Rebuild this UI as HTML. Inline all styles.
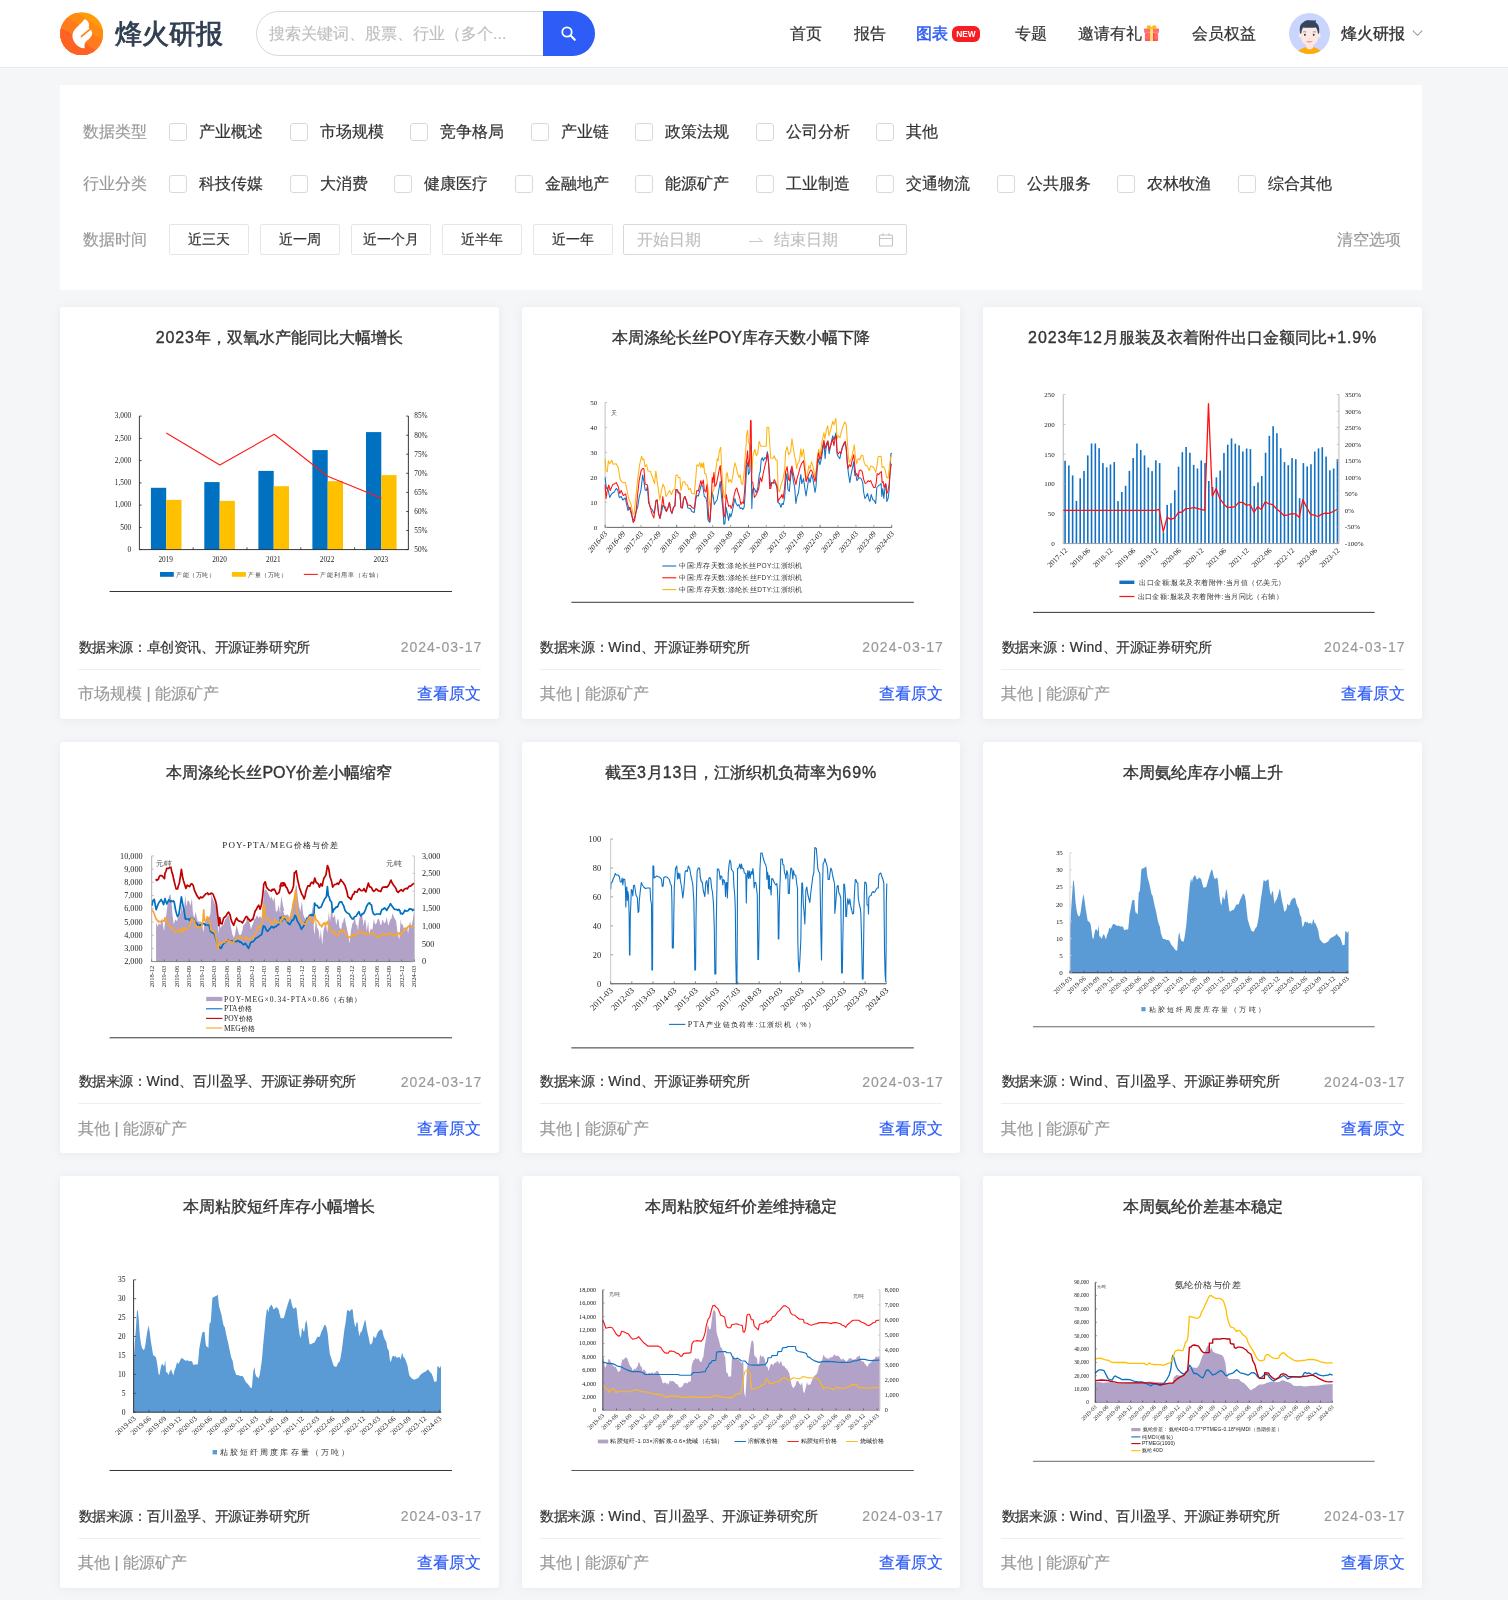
<!DOCTYPE html>
<html lang="zh"><head><meta charset="utf-8"><title>烽火研报</title>
<style>
*{box-sizing:border-box;margin:0;padding:0}
html,body{width:1508px;height:1600px;overflow:hidden;background:#f5f6f8;will-change:transform;font-family:"Liberation Sans",sans-serif;color:#333}
.abs{position:absolute}
#hdr{position:absolute;left:0;top:0;width:1508px;height:68px;background:#fff;border-bottom:1px solid #e8e9ec}
#logo{position:absolute;left:60px;top:12px;width:43.4px;height:43.4px}
#brand{position:absolute;left:114.5px;top:15px;font-size:27px;line-height:38px;font-weight:400;-webkit-text-stroke:0.85px #2f3e50;color:#2f3e50;letter-spacing:0px;white-space:nowrap}
#search{position:absolute;left:256px;top:11px;width:339px;height:45px;border:1px solid #d9d9d9;border-radius:23px;background:#fff;overflow:hidden}
#search .ph{position:absolute;left:12px;top:0;line-height:43px;font-size:16px;color:#bfbfbf;white-space:nowrap}
#sbtn{position:absolute;left:543px;top:11px;width:52px;height:45px;background:#2d5cf6;border-radius:0 22.5px 22.5px 0}
.nav{position:absolute;top:0;height:68px;line-height:68px;font-size:16px;color:#333;white-space:nowrap}
.nav.act{color:#2d5cf6;font-weight:400;-webkit-text-stroke:0.5px #2d5cf6}
#newb{position:absolute;left:952px;top:26px;width:28px;height:16px;border-radius:6px;background:#f81d22;color:#fff;font-size:8.3px;font-weight:bold;line-height:16px;text-align:center;letter-spacing:0}
#avatar{position:absolute;left:1289px;top:13px;width:41px;height:41px}
#panel{position:absolute;left:60px;top:85px;width:1362px;height:204.5px;background:#fff}
.flabel{position:absolute;left:23px;font-size:16px;color:#999;line-height:24px;white-space:nowrap}
.cb{position:absolute;width:18px;height:18px;border:1px solid #d9d9d9;border-radius:3px;background:#fff}
.cbt{position:absolute;font-size:16px;line-height:24px;color:#333;white-space:nowrap}
.tbtn{position:absolute;top:139px;width:80px;height:31px;border:1px solid #e6e6e6;border-radius:2px;font-size:14px;line-height:29px;text-align:center;color:#333;background:#fff}
#range{position:absolute;left:563px;top:139px;width:284px;height:31px;border:1px solid #d9d9d9;border-radius:2px;background:#fff}
#range span{position:absolute;top:0;line-height:29px;font-size:16px;color:#bfbfbf;white-space:nowrap}
#clear{position:absolute;right:21.5px;top:143px;font-size:16px;line-height:24px;color:#999}
.card{position:absolute;width:438.67px;height:411.67px;background:#fff;border-radius:3px;box-shadow:0 1px 10px rgba(90,100,140,0.09)}
.ctitle{position:absolute;left:0;top:18px;width:100%;text-align:center;font-size:16px;line-height:25px;font-weight:400;-webkit-text-stroke:0.35px #333;color:#333;white-space:nowrap}
.chart{position:absolute;left:0;top:0}
.csrc{position:absolute;left:18.5px;top:328.5px;font-size:14px;letter-spacing:-0.4px;line-height:22px;color:#333;white-space:nowrap}
.cdate{position:absolute;right:16.4px;top:329px;font-size:14px;line-height:22px;color:#999;letter-spacing:1px;white-space:nowrap}
.cline{position:absolute;left:18px;right:18px;top:361.7px;height:1px;background:#eeeff1}
.ctag{position:absolute;left:18px;top:375px;font-size:16px;line-height:24px;color:#999;white-space:nowrap}
.clink{position:absolute;right:17.3px;top:375px;font-size:16px;line-height:24px;color:#2d5cf6;white-space:nowrap}
svg text{font-family:"Liberation Serif",serif}

.ctitle .n{letter-spacing:0.9px}
.csrc .w{letter-spacing:0.2px}
.cbt,.nav,.tbtn,.csrc{-webkit-text-stroke:0.2px currentColor}
.flabel,.ctag,#clear,.cdate,.clink,#search .ph,#range span{-webkit-text-stroke:0.15px currentColor}
.nav.act{-webkit-text-stroke:0.5px #2d5cf6}

</style></head><body>
<div id="hdr">
<svg id="logo" viewBox="0 0 44 44">
<defs><clipPath id="lc"><circle cx="22" cy="22" r="21.8"/></clipPath></defs>
<g clip-path="url(#lc)">
<rect x="0" y="0" width="44" height="44" fill="#ff9a0a"/>
<path d="M-2 -11.6 L46 19.6 L46 46 L-2 46Z" fill="#ff8b12"/>
<path d="M-2 -0.8 L46 30.4 L46 46 L-2 46Z" fill="#ff7b1b"/>
<path d="M-2 13.9 L46 45.1 L46 46 L-2 46Z" fill="#ff6224"/>
</g>
<path d="M25 7 C23.5 9 20 12.5 18.3 14.1 C16 16.3 13.6 19 13 21.5 C12.2 24.5 12.6 27.5 14.8 30.9 C16.5 33.4 19 35.3 21.8 36.6 L25 36.7 C24.8 34.8 24.8 33 25.2 31.6 C25.6 30.4 27 29.3 28.5 28.1 C30 26.8 31.6 25 32.4 23.2 C33 21.5 32.6 19.6 30.9 17.4 L29 16 C29.6 14 29.4 11.5 28.6 10 C27.8 8.6 26.6 7.5 25 7 Z" fill="#fff"/>
<path d="M30.9 17.1 L21.8 24.7" stroke="#ff8516" stroke-width="1.9" fill="none" stroke-linecap="round"/>
</svg>
<div id="brand">烽火研报</div>
<div id="search"><div class="ph">搜索关键词、股票、行业（多个...</div></div><div id="sbtn"><svg width="52" height="45" viewBox="0 0 52 45"><circle cx="24" cy="21" r="4.7" fill="none" stroke="#fff" stroke-width="1.8"/><path d="M27.6 24.6 L31.8 28.8" stroke="#fff" stroke-width="2.1" stroke-linecap="round"/></svg></div>
<div class="nav " style="left:790px">首页</div>
<div class="nav " style="left:853.6px">报告</div>
<div class="nav act" style="left:916.2px">图表</div>
<div class="nav " style="left:1014.6px">专题</div>
<div class="nav " style="left:1077.6px">邀请有礼</div>
<div class="nav " style="left:1192px">会员权益</div>
<div id="newb">NEW</div>
<svg class="abs" style="left:1144px;top:24.6px" width="16" height="18" viewBox="0 0 16 18"><defs><linearGradient id="gl" x1="0" y1="0" x2="0" y2="1"><stop offset="0" stop-color="#ff6666"/><stop offset="0.75" stop-color="#ff7474"/><stop offset="1" stop-color="#fc9c9c"/></linearGradient><linearGradient id="gb" x1="0" y1="0" x2="0" y2="1"><stop offset="0" stop-color="#ff6b6b"/><stop offset="0.7" stop-color="#ff6a6a"/><stop offset="1" stop-color="#ff4a4a"/></linearGradient></defs>
<rect x="0.9" y="8" width="13.2" height="8.1" rx="0.8" fill="url(#gb)"/><rect x="9" y="8" width="1.6" height="8.1" fill="#ff4444" opacity="0.7"/>
<rect x="0.1" y="3.4" width="14.9" height="4.7" rx="0.5" fill="url(#gl)"/>
<ellipse cx="4.9" cy="2.1" rx="2.2" ry="1.9" fill="#ffba00"/><ellipse cx="10.2" cy="2.1" rx="2.2" ry="1.9" fill="#ffba00"/><path d="M5.5 3.6 L7.55 1.9 L9.6 3.6Z" fill="#ffb800"/>
<rect x="6.1" y="3.2" width="2.9" height="13.2" fill="#ffe066"/><rect x="6.1" y="2.8" width="2.9" height="1.2" fill="#ffc21a"/>
</svg>
<svg id="avatar" viewBox="0 0 41 41"><defs><clipPath id="ac"><circle cx="20.5" cy="20.5" r="20.5"/></clipPath></defs>
<circle cx="20.5" cy="20.5" r="20.5" fill="#c9d5fd"/>
<g clip-path="url(#ac)">
<path d="M8.8 38 C12 35.6 15.5 34.3 17.2 34 L24 34 C26 34.3 29 35.6 31.6 38 L31.6 44 L8.8 44Z" fill="#ffab0a"/>
<path d="M17.1 29.5 L24.1 29.5 L24.1 34.4 C23.2 36.8 18 36.8 17.1 34.4Z" fill="#fde6e1"/>
<ellipse cx="11.3" cy="22.4" rx="1.7" ry="2.1" fill="#fde8e4"/><ellipse cx="29.9" cy="22.4" rx="1.7" ry="2.1" fill="#fde8e4"/>
<path d="M12.1 16 C12.1 12 29.1 12 29.1 16 L29.1 24.5 C29.1 29.5 25 32.6 20.6 32.6 C16.2 32.6 12.1 29.5 12.1 24.5Z" fill="#fde8e4"/>
<path d="M11.2 20.6 C10 14 11.5 10.8 14.4 9.2 C16 7.6 18 7.2 20 7.3 L25.4 7.6 C25.8 7.3 26.2 7 26.6 7.1 C26.8 8 26.8 8.8 26.7 9.4 C29.6 11 30.8 15 30 20.6 L28.9 20.4 C28.6 17.6 27.8 15.6 27 14.4 C22.5 15 17 14.8 14.2 14.4 C13.2 15.6 12.6 17.6 12.4 20.4Z" fill="#34455c"/>
<ellipse cx="15.9" cy="21.8" rx="0.95" ry="1.1" fill="#3a3a3a"/><ellipse cx="24.7" cy="21.8" rx="0.95" ry="1.1" fill="#3a3a3a"/>
<path d="M14 19 Q15.6 18.4 17.3 19 M23.9 19 Q25.5 18.4 27 19" stroke="#5a6270" stroke-width="0.6" fill="none"/>
<ellipse cx="20.6" cy="25.4" rx="0.7" ry="0.4" fill="#fbc3bf"/>
<path d="M17.1 28.1 L23.5 28.1 C23 30.4 17.6 30.4 17.1 28.1Z" fill="#ff9d9d"/>
</g></svg>
<div class="nav" style="left:1341px;font-weight:400;-webkit-text-stroke:0.35px #333;color:#333">烽火研报</div>
<svg class="abs" style="left:1411px;top:28px" width="13" height="10" viewBox="0 0 13 10"><path d="M1.8 2.6 L6.5 7.3 L11.2 2.6" fill="none" stroke="#999" stroke-width="1.1"/></svg>
</div>
<div id="panel">
<div class="flabel" style="top:35px">数据类型</div>
<div class="cb" style="left:109px;top:38px"></div><div class="cbt" style="left:139px;top:35px">产业概述</div>
<div class="cb" style="left:229.5px;top:38px"></div><div class="cbt" style="left:259.5px;top:35px">市场规模</div>
<div class="cb" style="left:350px;top:38px"></div><div class="cbt" style="left:380px;top:35px">竞争格局</div>
<div class="cb" style="left:470.5px;top:38px"></div><div class="cbt" style="left:500.5px;top:35px">产业链</div>
<div class="cb" style="left:575px;top:38px"></div><div class="cbt" style="left:605px;top:35px">政策法规</div>
<div class="cb" style="left:695.5px;top:38px"></div><div class="cbt" style="left:725.5px;top:35px">公司分析</div>
<div class="cb" style="left:816px;top:38px"></div><div class="cbt" style="left:846px;top:35px">其他</div>
<div class="flabel" style="top:87px">行业分类</div>
<div class="cb" style="left:109px;top:90px"></div><div class="cbt" style="left:139px;top:87px">科技传媒</div>
<div class="cb" style="left:229.5px;top:90px"></div><div class="cbt" style="left:259.5px;top:87px">大消费</div>
<div class="cb" style="left:334px;top:90px"></div><div class="cbt" style="left:364px;top:87px">健康医疗</div>
<div class="cb" style="left:454.5px;top:90px"></div><div class="cbt" style="left:484.5px;top:87px">金融地产</div>
<div class="cb" style="left:575px;top:90px"></div><div class="cbt" style="left:605px;top:87px">能源矿产</div>
<div class="cb" style="left:695.5px;top:90px"></div><div class="cbt" style="left:725.5px;top:87px">工业制造</div>
<div class="cb" style="left:816px;top:90px"></div><div class="cbt" style="left:846px;top:87px">交通物流</div>
<div class="cb" style="left:936.5px;top:90px"></div><div class="cbt" style="left:966.5px;top:87px">公共服务</div>
<div class="cb" style="left:1057px;top:90px"></div><div class="cbt" style="left:1087px;top:87px">农林牧渔</div>
<div class="cb" style="left:1177.5px;top:90px"></div><div class="cbt" style="left:1207.5px;top:87px">综合其他</div>
<div class="flabel" style="top:143px">数据时间</div>
<div class="tbtn" style="left:109px">近三天</div>
<div class="tbtn" style="left:200px">近一周</div>
<div class="tbtn" style="left:291px">近一个月</div>
<div class="tbtn" style="left:382px">近半年</div>
<div class="tbtn" style="left:473px">近一年</div>
<div id="range"><span style="left:13px">开始日期</span><svg class="abs" style="left:124px;top:9px" width="16" height="12" viewBox="0 0 16 12"><path d="M1 7.5 H14.5 M10.5 3.8 L14.3 7.5" fill="none" stroke="#c8c8c8" stroke-width="1"/></svg><span style="left:150px">结束日期</span><svg class="abs" style="left:254px;top:7px" width="16" height="16" viewBox="0 0 16 16"><rect x="1.5" y="3" width="13" height="11" rx="1" fill="none" stroke="#c4c4c4" stroke-width="1.1"/><path d="M1.5 6.5 H14.5 M5 1.2 V4 M11 1.2 V4" stroke="#c4c4c4" stroke-width="1.1" fill="none"/></svg></div>
<div id="clear">清空选项</div>
</div>
<div class="card" style="left:60px;top:307px"><div class="ctitle"><span class="n">2023</span>年，双氧水产能同比大幅增长</div><svg class="chart" width="438.67" height="411.67" viewBox="60 307 438.67 411.67"><rect x="150.9" y="487.8" width="15.3" height="61.8" fill="#0070c0"/>
<rect x="166.2" y="499.9" width="15.3" height="49.7" fill="#ffc000"/>
<rect x="204.3" y="482.1" width="15.3" height="67.5" fill="#0070c0"/>
<rect x="219.6" y="500.9" width="15.3" height="48.7" fill="#ffc000"/>
<rect x="258.4" y="470.9" width="15.3" height="78.7" fill="#0070c0"/>
<rect x="273.7" y="486.2" width="15.3" height="63.4" fill="#ffc000"/>
<rect x="312.4" y="450.1" width="15.3" height="99.5" fill="#0070c0"/>
<rect x="327.7" y="481.2" width="15.3" height="68.4" fill="#ffc000"/>
<rect x="366.0" y="432.1" width="15.3" height="117.5" fill="#0070c0"/>
<rect x="381.3" y="475.1" width="15.3" height="74.5" fill="#ffc000"/>
<path d="M139.4 416.1 V549.6 H408.4 V416.1" fill="none" stroke="#222" stroke-width="0.9"/>
<path d="M139.4 416.1 h2.2" stroke="#222" stroke-width="0.8"/>
<text x="131.2" y="418.5" font-size="7.3" text-anchor="end" fill="#222">3,000</text>
<path d="M139.4 438.4 h2.2" stroke="#222" stroke-width="0.8"/>
<text x="131.2" y="440.8" font-size="7.3" text-anchor="end" fill="#222">2,500</text>
<path d="M139.4 460.6 h2.2" stroke="#222" stroke-width="0.8"/>
<text x="131.2" y="463.0" font-size="7.3" text-anchor="end" fill="#222">2,000</text>
<path d="M139.4 482.9 h2.2" stroke="#222" stroke-width="0.8"/>
<text x="131.2" y="485.2" font-size="7.3" text-anchor="end" fill="#222">1,500</text>
<path d="M139.4 505.1 h2.2" stroke="#222" stroke-width="0.8"/>
<text x="131.2" y="507.5" font-size="7.3" text-anchor="end" fill="#222">1,000</text>
<path d="M139.4 527.4 h2.2" stroke="#222" stroke-width="0.8"/>
<text x="131.2" y="529.8" font-size="7.3" text-anchor="end" fill="#222">500</text>
<path d="M139.4 549.6 h2.2" stroke="#222" stroke-width="0.8"/>
<text x="131.2" y="552.0" font-size="7.3" text-anchor="end" fill="#222">0</text>
<path d="M408.4 416.1 h-2.2" stroke="#222" stroke-width="0.8"/>
<text x="414.3" y="418.5" font-size="7.3" fill="#222">85%</text>
<path d="M408.4 435.2 h-2.2" stroke="#222" stroke-width="0.8"/>
<text x="414.3" y="437.6" font-size="7.3" fill="#222">80%</text>
<path d="M408.4 454.2 h-2.2" stroke="#222" stroke-width="0.8"/>
<text x="414.3" y="456.6" font-size="7.3" fill="#222">75%</text>
<path d="M408.4 473.3 h-2.2" stroke="#222" stroke-width="0.8"/>
<text x="414.3" y="475.7" font-size="7.3" fill="#222">70%</text>
<path d="M408.4 492.4 h-2.2" stroke="#222" stroke-width="0.8"/>
<text x="414.3" y="494.8" font-size="7.3" fill="#222">65%</text>
<path d="M408.4 511.5 h-2.2" stroke="#222" stroke-width="0.8"/>
<text x="414.3" y="513.9" font-size="7.3" fill="#222">60%</text>
<path d="M408.4 530.5 h-2.2" stroke="#222" stroke-width="0.8"/>
<text x="414.3" y="532.9" font-size="7.3" fill="#222">55%</text>
<path d="M408.4 549.6 h-2.2" stroke="#222" stroke-width="0.8"/>
<text x="414.3" y="552.0" font-size="7.3" fill="#222">50%</text>
<path d="M193.2 549.6 v-2.2" stroke="#222" stroke-width="0.8"/>
<path d="M247.0 549.6 v-2.2" stroke="#222" stroke-width="0.8"/>
<path d="M300.8 549.6 v-2.2" stroke="#222" stroke-width="0.8"/>
<path d="M354.6 549.6 v-2.2" stroke="#222" stroke-width="0.8"/>
<text x="165.7" y="561.6" font-size="7.3" text-anchor="middle" fill="#222">2019</text>
<text x="219.5" y="561.6" font-size="7.3" text-anchor="middle" fill="#222">2020</text>
<text x="273.3" y="561.6" font-size="7.3" text-anchor="middle" fill="#222">2021</text>
<text x="327.1" y="561.6" font-size="7.3" text-anchor="middle" fill="#222">2022</text>
<text x="380.9" y="561.6" font-size="7.3" text-anchor="middle" fill="#222">2023</text>
<polyline points="166.3,433 219.8,465.1 274.2,434.3 327.6,476.3 381.6,498.3" fill="none" stroke="#ff1a1a" stroke-width="1.1" stroke-linejoin="round"/>
<rect x="160" y="572" width="13.8" height="4.8" fill="#0070c0"/>
<rect x="231.9" y="572" width="14" height="4.8" fill="#ffc000"/>
<path d="M303.8 574.4 h14" stroke="#ff1a1a" stroke-width="1.1"/>
<text x="176.5" y="577" font-size="6.3" fill="#444" style="font-family:'Liberation Sans',sans-serif" textLength="38.5">产能（万吨）</text>
<text x="248.3" y="577" font-size="6.3" fill="#444" style="font-family:'Liberation Sans',sans-serif" textLength="38.5">产量（万吨）</text>
<text x="320" y="577" font-size="6.3" fill="#444" style="font-family:'Liberation Sans',sans-serif" textLength="62">产能利用率（右轴）</text>
<path d="M109.6 591.5 H452" stroke="#333" stroke-width="1"/></svg><div class="csrc">数据来源：卓创资讯、开源证券研究所</div><div class="cdate">2024-03-17</div><div class="cline"></div><div class="ctag">市场规模 | 能源矿产</div><div class="clink">查看原文</div></div>
<div class="card" style="left:521.67px;top:307px"><div class="ctitle">本周涤纶长丝POY库存天数小幅下降</div><svg class="chart" width="438.67" height="411.67" viewBox="521.67 307 438.67 411.67"><path d="M604.8 402.5 L604.8 527.4" stroke="#b0b0b0" stroke-width="0.8" fill="none"/>
<path d="M604.8 527.4 L891.6 527.4" stroke="#555" stroke-width="0.9" fill="none"/>
<path d="M604.8 402.5 L606.8 402.5" stroke="#b0b0b0" stroke-width="0.7" fill="none"/>
<text x="597.0" y="404.9" font-size="7" text-anchor="end" fill="#1a1a1a" >50</text>
<path d="M604.8 427.5 L606.8 427.5" stroke="#b0b0b0" stroke-width="0.7" fill="none"/>
<text x="597.0" y="429.9" font-size="7" text-anchor="end" fill="#1a1a1a" >40</text>
<path d="M604.8 452.5 L606.8 452.5" stroke="#b0b0b0" stroke-width="0.7" fill="none"/>
<text x="597.0" y="454.9" font-size="7" text-anchor="end" fill="#1a1a1a" >30</text>
<path d="M604.8 477.4 L606.8 477.4" stroke="#b0b0b0" stroke-width="0.7" fill="none"/>
<text x="597.0" y="479.8" font-size="7" text-anchor="end" fill="#1a1a1a" >20</text>
<path d="M604.8 502.4 L606.8 502.4" stroke="#b0b0b0" stroke-width="0.7" fill="none"/>
<text x="597.0" y="504.8" font-size="7" text-anchor="end" fill="#1a1a1a" >10</text>
<path d="M604.8 527.4 L606.8 527.4" stroke="#b0b0b0" stroke-width="0.7" fill="none"/>
<text x="597.0" y="529.8" font-size="7" text-anchor="end" fill="#1a1a1a" >0</text>
<path d="M604.8 527.4 L604.8 524.8" stroke="#555" stroke-width="0.8" fill="none"/>
<text transform="translate(607.2 534.0) scale(1 1.17) rotate(-45)" font-size="7.0" text-anchor="end" fill="#1a1a1a" >2016-03</text>
<path d="M622.7 527.4 L622.7 524.8" stroke="#999" stroke-width="0.8" fill="none"/>
<text transform="translate(625.1 534.0) scale(1 1.17) rotate(-45)" font-size="7.0" text-anchor="end" fill="#1a1a1a" >2016-09</text>
<path d="M640.6 527.4 L640.6 524.8" stroke="#999" stroke-width="0.8" fill="none"/>
<text transform="translate(643.0 534.0) scale(1 1.17) rotate(-45)" font-size="7.0" text-anchor="end" fill="#1a1a1a" >2017-03</text>
<path d="M658.5 527.4 L658.5 524.8" stroke="#999" stroke-width="0.8" fill="none"/>
<text transform="translate(660.9 534.0) scale(1 1.17) rotate(-45)" font-size="7.0" text-anchor="end" fill="#1a1a1a" >2017-09</text>
<path d="M676.4 527.4 L676.4 524.8" stroke="#555" stroke-width="0.8" fill="none"/>
<text transform="translate(678.8 534.0) scale(1 1.17) rotate(-45)" font-size="7.0" text-anchor="end" fill="#1a1a1a" >2018-03</text>
<path d="M694.4 527.4 L694.4 524.8" stroke="#999" stroke-width="0.8" fill="none"/>
<text transform="translate(696.8 534.0) scale(1 1.17) rotate(-45)" font-size="7.0" text-anchor="end" fill="#1a1a1a" >2018-09</text>
<path d="M712.3 527.4 L712.3 524.8" stroke="#999" stroke-width="0.8" fill="none"/>
<text transform="translate(714.7 534.0) scale(1 1.17) rotate(-45)" font-size="7.0" text-anchor="end" fill="#1a1a1a" >2019-03</text>
<path d="M730.2 527.4 L730.2 524.8" stroke="#999" stroke-width="0.8" fill="none"/>
<text transform="translate(732.6 534.0) scale(1 1.17) rotate(-45)" font-size="7.0" text-anchor="end" fill="#1a1a1a" >2019-09</text>
<path d="M748.1 527.4 L748.1 524.8" stroke="#555" stroke-width="0.8" fill="none"/>
<text transform="translate(750.5 534.0) scale(1 1.17) rotate(-45)" font-size="7.0" text-anchor="end" fill="#1a1a1a" >2020-03</text>
<path d="M766.0 527.4 L766.0 524.8" stroke="#999" stroke-width="0.8" fill="none"/>
<text transform="translate(768.4 534.0) scale(1 1.17) rotate(-45)" font-size="7.0" text-anchor="end" fill="#1a1a1a" >2020-09</text>
<path d="M783.9 527.4 L783.9 524.8" stroke="#999" stroke-width="0.8" fill="none"/>
<text transform="translate(786.3 534.0) scale(1 1.17) rotate(-45)" font-size="7.0" text-anchor="end" fill="#1a1a1a" >2021-03</text>
<path d="M801.8 527.4 L801.8 524.8" stroke="#999" stroke-width="0.8" fill="none"/>
<text transform="translate(804.2 534.0) scale(1 1.17) rotate(-45)" font-size="7.0" text-anchor="end" fill="#1a1a1a" >2021-09</text>
<path d="M819.8 527.4 L819.8 524.8" stroke="#555" stroke-width="0.8" fill="none"/>
<text transform="translate(822.1 534.0) scale(1 1.17) rotate(-45)" font-size="7.0" text-anchor="end" fill="#1a1a1a" >2022-03</text>
<path d="M837.7 527.4 L837.7 524.8" stroke="#999" stroke-width="0.8" fill="none"/>
<text transform="translate(840.1 534.0) scale(1 1.17) rotate(-45)" font-size="7.0" text-anchor="end" fill="#1a1a1a" >2022-09</text>
<path d="M855.6 527.4 L855.6 524.8" stroke="#999" stroke-width="0.8" fill="none"/>
<text transform="translate(858.0 534.0) scale(1 1.17) rotate(-45)" font-size="7.0" text-anchor="end" fill="#1a1a1a" >2023-03</text>
<path d="M873.5 527.4 L873.5 524.8" stroke="#999" stroke-width="0.8" fill="none"/>
<text transform="translate(875.9 534.0) scale(1 1.17) rotate(-45)" font-size="7.0" text-anchor="end" fill="#1a1a1a" >2023-09</text>
<path d="M891.4 527.4 L891.4 524.8" stroke="#555" stroke-width="0.8" fill="none"/>
<text transform="translate(893.8 534.0) scale(1 1.17) rotate(-45)" font-size="7.0" text-anchor="end" fill="#1a1a1a" >2024-03</text>
<polyline points="604.8,477.6 606.0,488.5 607.4,488.0 609.4,497.5 610.9,494.5 612.4,493.0 613.9,492.0 615.9,488.5 617.4,490.0 618.9,497.5 620.9,496.5 622.4,500.0 624.9,498.0 626.3,504.5 627.6,510.4 629.3,507.9 630.8,513.4 632.8,520.4 634.3,517.4 635.8,511.4 637.3,507.4 638.8,497.5 640.6,490.5 642.3,475.1 643.6,481.6 644.8,490.0 646.0,490.5 647.2,486.5 648.2,502.5 650.2,507.9 651.7,509.4 653.5,513.4 654.7,508.4 655.7,500.5 656.9,500.0 658.2,513.4 659.7,518.4 661.2,512.4 662.5,505.4 663.7,506.4 665.2,510.4 666.1,511.4 667.6,507.9 669.1,502.5 670.4,510.4 671.6,513.4 673.1,507.4 674.6,505.9 675.6,489.5 677.1,490.0 678.1,493.0 679.6,493.0 680.6,507.4 682.1,507.9 683.1,499.5 684.6,496.5 686.0,500.5 687.5,507.9 690.0,508.4 691.5,511.4 694.0,512.4 695.5,499.5 696.5,495.5 698.0,496.0 699.5,490.5 701.0,485.0 702.5,486.5 704.0,496.5 705.5,497.5 706.6,502.5 707.6,519.4 708.6,521.4 709.6,522.4 710.9,504.5 711.9,492.5 712.9,496.5 713.9,504.5 715.4,502.0 716.9,499.5 718.4,490.5 719.9,481.6 721.2,496.5 722.4,507.4 723.6,524.4 724.6,523.4 725.9,507.4 726.8,512.4 728.3,520.4 729.5,513.4 730.5,516.9 731.8,512.4 733.3,504.5 734.5,498.5 735.8,503.5 737.3,505.9 738.5,504.5 739.8,508.4 741.3,507.9 742.5,509.4 743.8,507.4 744.8,494.5 746.0,473.6 746.0,466.6 747.2,462.7 748.2,474.6 749.5,471.6 750.2,444.8 750.8,446.7 751.5,508.4 752.2,490.5 753.2,487.5 754.5,489.5 755.8,492.5 757.4,488.5 758.9,474.6 759.9,471.6 760.9,459.7 761.9,457.7 763.1,460.7 764.4,457.7 765.7,458.7 767.1,451.7 768.4,464.7 769.4,477.6 770.4,486.5 771.4,482.6 772.9,483.1 773.9,482.6 775.4,484.1 776.8,488.5 777.6,502.5 779.3,503.5 780.6,507.4 781.8,503.5 783.0,504.5 784.3,497.5 785.3,481.6 786.6,473.6 787.6,489.5 789.0,491.5 790.3,477.6 791.6,468.6 792.8,479.6 794.3,487.5 795.6,503.5 796.7,496.5 798.2,492.5 799.7,479.6 800.5,474.6 801.5,483.6 803.2,478.6 804.7,489.5 805.7,496.0 807.2,486.5 808.5,477.6 809.7,482.6 811.2,474.6 812.7,479.6 814.7,492.5 815.7,486.5 816.8,470.6 818.1,458.7 819.6,464.7 821.1,458.7 822.6,448.7 823.6,441.8 824.8,458.7 825.6,448.7 827.6,441.8 828.8,453.7 830.6,443.8 832.4,435.8 833.6,439.8 835.1,434.8 835.8,432.8 836.7,453.7 838.0,456.7 839.5,458.7 840.5,453.7 842.0,447.7 843.5,444.8 845.0,442.8 846.0,449.7 847.0,463.7 848.0,472.6 849.5,482.6 850.7,474.6 852.0,468.6 853.5,461.7 854.5,475.6 855.5,474.6 856.6,480.6 857.9,478.6 859.4,477.6 860.9,478.6 862.4,482.6 863.4,492.5 864.6,498.5 865.9,496.5 867.2,493.5 868.4,498.5 869.6,501.5 870.9,494.5 872.4,499.5 873.9,500.5 875.4,503.5 876.5,487.5 878.3,485.5 879.8,484.6 880.8,483.6 881.5,496.5 882.5,488.5 883.5,498.5 884.8,486.5 885.8,484.6 886.5,501.5 887.8,498.5 888.8,490.5 889.8,470.6 890.5,453.7 891.5,453.2" fill="none" stroke="#1073c6" stroke-width="1.05" stroke-linejoin="round" />
<polyline points="604.8,458.7 605.5,470.6 606.9,471.6 608.1,460.7 609.4,463.7 611.4,460.2 612.9,464.2 615.9,463.7 617.9,467.6 619.9,479.6 622.4,482.6 624.9,482.6 626.8,490.5 628.3,498.5 630.8,504.5 632.8,514.4 633.8,513.4 635.8,494.5 637.3,479.6 639.3,464.7 641.3,456.2 642.3,459.7 643.6,459.2 644.8,466.6 646.2,464.7 647.7,471.1 650.2,471.6 652.2,477.6 654.2,483.6 655.5,471.1 656.7,479.6 658.2,490.5 659.5,500.0 661.2,490.5 662.7,484.1 664.2,487.5 665.7,496.5 667.6,493.5 669.1,490.5 671.1,494.5 672.6,490.5 674.6,488.5 675.6,475.1 677.1,475.1 678.1,477.6 679.6,477.6 680.6,490.5 682.6,482.1 684.1,481.6 685.6,484.6 687.0,485.0 688.5,489.5 690.0,488.5 691.5,493.5 694.0,494.0 695.5,477.6 696.5,464.7 698.0,466.1 699.5,462.7 700.5,467.6 701.5,463.2 702.5,467.6 703.3,462.7 704.3,473.6 705.5,473.6 706.6,479.6 707.9,490.5 709.4,504.5 710.4,507.4 711.9,491.5 713.4,490.5 714.9,474.6 716.9,458.7 717.9,460.7 718.9,451.7 720.4,447.2 721.2,464.7 722.4,484.6 723.9,497.5 724.9,497.5 725.9,474.6 726.8,472.6 728.3,482.1 729.8,479.6 731.3,482.6 732.8,473.6 734.5,462.7 735.8,466.6 737.3,473.6 738.8,477.6 739.8,474.6 741.1,483.6 742.3,484.6 743.8,472.6 744.8,456.7 746.0,442.8 746.0,436.8 747.2,430.3 748.2,442.8 749.5,443.8 750.5,464.7 751.5,472.6 752.5,456.7 754.5,449.2 756.0,455.7 757.4,453.7 758.9,441.3 760.4,446.2 765.9,446.2 766.7,427.3 768.4,427.3 769.4,443.8 770.4,458.2 772.9,458.2 773.9,455.7 775.4,459.7 776.8,460.2 777.8,490.5 779.3,491.5 780.8,484.6 782.8,478.6 784.3,470.6 785.3,451.7 786.8,446.7 788.3,454.7 790.3,451.7 791.6,438.8 792.8,446.7 794.3,456.7 795.3,459.7 796.2,468.6 797.7,462.7 799.2,460.7 800.5,448.7 801.5,456.7 803.2,449.2 804.7,463.7 805.7,480.6 807.2,473.6 808.5,465.6 809.7,468.6 811.2,461.7 812.7,466.6 814.7,477.6 815.7,470.6 816.8,458.7 818.4,449.2 819.8,455.7 821.6,441.8 823.6,432.8 824.6,438.8 826.1,429.8 827.4,425.8 828.6,435.8 830.6,428.8 832.4,421.4 833.6,424.9 835.6,418.4 836.7,438.8 838.0,435.8 839.5,437.8 841.5,429.8 843.0,425.8 844.5,421.9 846.0,424.9 847.0,440.8 848.0,456.7 849.0,462.7 850.5,459.7 852.0,454.7 854.0,444.8 855.0,456.7 856.4,463.7 857.9,458.7 859.4,459.7 860.9,455.7 862.4,455.2 863.9,462.7 865.4,465.6 866.9,466.1 868.9,470.6 870.4,466.1 872.4,466.6 873.9,468.6 875.4,472.1 876.8,464.7 877.8,456.7 880.8,456.2 881.8,467.6 883.3,466.6 884.8,469.6 886.3,477.6 887.8,478.1 889.3,464.7 890.5,456.7 891.5,454.7" fill="none" stroke="#ffb30f" stroke-width="1.05" stroke-linejoin="round" />
<polyline points="604.8,484.6 605.7,498.5 606.9,490.5 608.4,485.0 609.9,490.5 612.4,484.6 613.9,484.1 615.9,482.6 617.9,486.5 619.4,493.5 620.9,490.5 622.9,495.5 625.4,494.0 626.8,502.5 628.3,507.9 629.8,507.4 631.3,513.4 632.8,522.4 634.3,520.4 635.8,511.4 637.3,494.5 638.8,480.6 640.8,470.6 642.3,468.6 643.6,468.6 644.8,484.1 647.2,485.0 648.7,502.5 650.2,508.4 651.7,513.9 653.5,517.9 654.7,508.4 655.7,500.5 656.9,500.0 658.2,513.4 659.7,518.4 661.2,507.4 662.5,496.5 663.7,506.4 665.2,506.9 666.1,511.4 667.6,507.9 669.1,502.5 670.4,510.4 671.6,513.4 673.1,507.4 674.6,505.9 675.6,489.5 677.1,490.0 678.1,493.0 679.6,493.0 680.6,507.4 682.1,507.9 683.1,499.5 684.6,496.5 686.0,500.5 687.5,505.0 690.0,505.4 691.5,507.4 694.0,508.4 695.5,496.5 696.5,490.5 698.0,491.0 699.5,485.0 700.5,480.6 701.5,484.6 703.0,480.1 704.0,490.5 705.5,492.0 706.6,484.6 707.6,504.5 708.4,518.4 709.6,520.4 710.9,500.5 711.9,477.6 712.6,482.6 713.6,472.6 714.6,486.5 715.9,484.6 717.4,477.6 718.9,469.6 719.9,465.6 721.2,482.6 722.4,499.5 723.6,517.4 724.6,514.4 725.9,494.5 726.8,499.5 728.3,506.4 729.8,505.4 730.8,508.4 732.3,504.5 733.8,495.5 735.3,489.5 736.5,488.0 737.8,493.0 739.3,497.5 740.5,504.5 741.8,502.0 743.1,503.5 744.3,490.5 745.3,473.6 746.0,459.7 746.0,463.7 747.2,450.7 748.2,466.6 749.5,458.7 750.2,420.4 750.8,420.9 751.5,481.6 752.5,482.6 754.0,497.5 755.5,495.5 756.9,492.5 758.4,488.5 759.9,477.6 761.4,481.6 762.9,473.6 764.4,466.6 765.9,460.7 767.4,453.7 768.4,464.7 769.4,488.5 770.4,488.5 771.4,482.6 772.9,483.1 773.9,479.6 775.4,482.6 776.8,486.5 777.6,501.5 779.3,498.5 780.3,497.5 781.6,494.5 782.8,498.5 784.3,487.5 785.3,471.6 786.8,466.6 788.3,479.6 789.3,480.6 790.3,470.6 791.6,466.1 792.8,472.6 794.3,479.6 795.6,484.6 796.7,478.6 798.2,473.6 799.7,467.6 801.2,463.7 803.2,460.7 804.7,472.6 805.9,481.6 807.2,477.6 808.7,473.6 810.2,470.1 811.5,470.6 812.7,474.6 814.7,481.6 815.7,475.6 816.8,464.7 818.1,452.7 819.6,459.7 821.1,454.7 822.6,444.8 823.6,440.3 824.8,448.7 826.1,443.8 827.6,440.8 828.8,449.7 830.6,444.8 832.4,438.8 833.6,445.7 835.1,436.8 836.0,435.8 836.7,451.7 838.0,453.7 839.5,451.7 840.5,453.7 842.0,447.7 843.5,443.3 845.0,441.3 846.0,449.7 847.0,462.7 847.7,468.6 849.0,464.7 850.5,466.6 852.0,459.7 853.5,454.7 854.5,466.6 855.5,474.6 856.6,473.6 857.9,477.6 858.9,470.6 860.4,470.1 861.9,471.6 863.4,479.6 864.9,483.6 866.4,482.6 867.9,480.6 869.2,481.6 870.4,480.6 871.9,484.6 873.4,487.5 874.9,487.5 875.9,482.6 876.8,473.6 878.3,474.6 879.8,472.6 881.1,471.6 881.8,482.6 882.8,481.6 883.8,487.5 885.3,483.6 886.5,493.5 887.5,491.5 888.8,484.6 889.8,472.6 890.8,464.7 891.5,463.7" fill="none" stroke="#ff1111" stroke-width="1.05" stroke-linejoin="round" />
<text x="610.5" y="415.5" font-size="6.2" fill="#444" text-anchor="start" style="font-family:'Liberation Sans',sans-serif">天</text>
<path d="M662.0 566.0 L676.0 566.0" stroke="#1073c6" stroke-width="1.1" fill="none"/>
<text x="679.0" y="568.4" font-size="6.6" fill="#333" text-anchor="start" style="font-family:'Liberation Sans',sans-serif" textLength="123">中国:库存天数:涤纶长丝POY:江浙织机</text>
<path d="M662.0 577.8 L676.0 577.8" stroke="#ff1111" stroke-width="1.1" fill="none"/>
<text x="679.0" y="580.2" font-size="6.6" fill="#333" text-anchor="start" style="font-family:'Liberation Sans',sans-serif" textLength="123">中国:库存天数:涤纶长丝FDY:江浙织机</text>
<path d="M662.0 589.6 L676.0 589.6" stroke="#ffb30f" stroke-width="1.1" fill="none"/>
<text x="679.0" y="592.0" font-size="6.6" fill="#333" text-anchor="start" style="font-family:'Liberation Sans',sans-serif" textLength="123">中国:库存天数:涤纶长丝DTY:江浙织机</text>
<path d="M571.0 602.3 L913.5 602.3" stroke="#333" stroke-width="1" fill="none"/></svg><div class="csrc">数据来源：<span class="w">Wind</span>、开源证券研究所</div><div class="cdate">2024-03-17</div><div class="cline"></div><div class="ctag">其他 | 能源矿产</div><div class="clink">查看原文</div></div>
<div class="card" style="left:983.33px;top:307px"><div class="ctitle"><span class="n">2023</span>年<span class="n">12</span>月服装及衣着附件出口金额同比<span class="n">+1.9%</span></div><svg class="chart" width="438.67" height="411.67" viewBox="983.33 307 438.67 411.67"><rect x="1064.60" y="460.8" width="1.6" height="82.8" fill="#0f70c4"/>
<rect x="1068.38" y="465.5" width="1.6" height="78.1" fill="#0f70c4"/>
<rect x="1072.17" y="475.4" width="1.6" height="68.2" fill="#0f70c4"/>
<rect x="1075.95" y="500.9" width="1.6" height="42.7" fill="#0f70c4"/>
<rect x="1079.73" y="478.3" width="1.6" height="65.3" fill="#0f70c4"/>
<rect x="1083.52" y="470.9" width="1.6" height="72.7" fill="#0f70c4"/>
<rect x="1087.30" y="455.4" width="1.6" height="88.2" fill="#0f70c4"/>
<rect x="1091.08" y="443.5" width="1.6" height="100.1" fill="#0f70c4"/>
<rect x="1094.86" y="443.5" width="1.6" height="100.1" fill="#0f70c4"/>
<rect x="1098.65" y="448.2" width="1.6" height="95.4" fill="#0f70c4"/>
<rect x="1102.43" y="463.1" width="1.6" height="80.5" fill="#0f70c4"/>
<rect x="1106.21" y="467.3" width="1.6" height="76.3" fill="#0f70c4"/>
<rect x="1110.00" y="464.5" width="1.6" height="79.1" fill="#0f70c4"/>
<rect x="1113.78" y="462.1" width="1.6" height="81.5" fill="#0f70c4"/>
<rect x="1117.56" y="501.1" width="1.6" height="42.5" fill="#0f70c4"/>
<rect x="1121.35" y="492.0" width="1.6" height="51.6" fill="#0f70c4"/>
<rect x="1125.13" y="485.8" width="1.6" height="57.8" fill="#0f70c4"/>
<rect x="1128.91" y="470.9" width="1.6" height="72.7" fill="#0f70c4"/>
<rect x="1132.69" y="458.0" width="1.6" height="85.6" fill="#0f70c4"/>
<rect x="1136.48" y="443.5" width="1.6" height="100.1" fill="#0f70c4"/>
<rect x="1140.26" y="450.0" width="1.6" height="93.6" fill="#0f70c4"/>
<rect x="1144.04" y="455.4" width="1.6" height="88.2" fill="#0f70c4"/>
<rect x="1147.83" y="467.5" width="1.6" height="76.1" fill="#0f70c4"/>
<rect x="1151.61" y="471.1" width="1.6" height="72.5" fill="#0f70c4"/>
<rect x="1155.39" y="460.3" width="1.6" height="83.3" fill="#0f70c4"/>
<rect x="1159.18" y="463.1" width="1.6" height="80.5" fill="#0f70c4"/>
<rect x="1162.96" y="532.3" width="1.6" height="11.3" fill="#0f70c4"/>
<rect x="1166.74" y="504.9" width="1.6" height="38.7" fill="#0f70c4"/>
<rect x="1170.52" y="503.2" width="1.6" height="40.4" fill="#0f70c4"/>
<rect x="1174.31" y="490.3" width="1.6" height="53.3" fill="#0f70c4"/>
<rect x="1178.09" y="466.7" width="1.6" height="76.9" fill="#0f70c4"/>
<rect x="1181.87" y="452.2" width="1.6" height="91.4" fill="#0f70c4"/>
<rect x="1185.66" y="447.0" width="1.6" height="96.6" fill="#0f70c4"/>
<rect x="1189.44" y="452.7" width="1.6" height="90.9" fill="#0f70c4"/>
<rect x="1193.22" y="464.9" width="1.6" height="78.7" fill="#0f70c4"/>
<rect x="1197.01" y="468.5" width="1.6" height="75.1" fill="#0f70c4"/>
<rect x="1200.79" y="460.5" width="1.6" height="83.1" fill="#0f70c4"/>
<rect x="1204.57" y="463.1" width="1.6" height="80.5" fill="#0f70c4"/>
<rect x="1208.35" y="481.0" width="1.6" height="62.6" fill="#0f70c4"/>
<rect x="1212.14" y="487.0" width="1.6" height="56.6" fill="#0f70c4"/>
<rect x="1215.92" y="477.4" width="1.6" height="66.2" fill="#0f70c4"/>
<rect x="1219.70" y="470.6" width="1.6" height="73.0" fill="#0f70c4"/>
<rect x="1223.49" y="453.0" width="1.6" height="90.6" fill="#0f70c4"/>
<rect x="1227.27" y="444.7" width="1.6" height="98.9" fill="#0f70c4"/>
<rect x="1231.05" y="438.4" width="1.6" height="105.2" fill="#0f70c4"/>
<rect x="1234.84" y="443.7" width="1.6" height="99.9" fill="#0f70c4"/>
<rect x="1238.62" y="445.4" width="1.6" height="98.2" fill="#0f70c4"/>
<rect x="1242.40" y="451.5" width="1.6" height="92.1" fill="#0f70c4"/>
<rect x="1246.18" y="448.5" width="1.6" height="95.1" fill="#0f70c4"/>
<rect x="1249.97" y="449.1" width="1.6" height="94.5" fill="#0f70c4"/>
<rect x="1253.75" y="486.0" width="1.6" height="57.6" fill="#0f70c4"/>
<rect x="1257.53" y="482.4" width="1.6" height="61.2" fill="#0f70c4"/>
<rect x="1261.32" y="476.0" width="1.6" height="67.6" fill="#0f70c4"/>
<rect x="1265.10" y="452.7" width="1.6" height="90.9" fill="#0f70c4"/>
<rect x="1268.88" y="435.8" width="1.6" height="107.8" fill="#0f70c4"/>
<rect x="1272.67" y="426.2" width="1.6" height="117.4" fill="#0f70c4"/>
<rect x="1276.45" y="433.2" width="1.6" height="110.4" fill="#0f70c4"/>
<rect x="1280.23" y="448.2" width="1.6" height="95.4" fill="#0f70c4"/>
<rect x="1284.01" y="462.1" width="1.6" height="81.5" fill="#0f70c4"/>
<rect x="1287.80" y="465.2" width="1.6" height="78.4" fill="#0f70c4"/>
<rect x="1291.58" y="458.1" width="1.6" height="85.5" fill="#0f70c4"/>
<rect x="1295.36" y="459.2" width="1.6" height="84.4" fill="#0f70c4"/>
<rect x="1299.15" y="498.2" width="1.6" height="45.4" fill="#0f70c4"/>
<rect x="1302.93" y="463.1" width="1.6" height="80.5" fill="#0f70c4"/>
<rect x="1306.71" y="466.4" width="1.6" height="77.2" fill="#0f70c4"/>
<rect x="1310.50" y="464.2" width="1.6" height="79.4" fill="#0f70c4"/>
<rect x="1314.28" y="451.5" width="1.6" height="92.1" fill="#0f70c4"/>
<rect x="1318.06" y="448.4" width="1.6" height="95.2" fill="#0f70c4"/>
<rect x="1321.84" y="447.2" width="1.6" height="96.4" fill="#0f70c4"/>
<rect x="1325.63" y="456.6" width="1.6" height="87.0" fill="#0f70c4"/>
<rect x="1329.41" y="470.3" width="1.6" height="73.3" fill="#0f70c4"/>
<rect x="1333.19" y="468.5" width="1.6" height="75.1" fill="#0f70c4"/>
<rect x="1336.98" y="459.2" width="1.6" height="84.4" fill="#0f70c4"/>
<path d="M1063.6 394.6 L1063.6 543.6" stroke="#aaa" stroke-width="0.8" fill="none"/>
<path d="M1339.3 394.6 L1339.3 543.6" stroke="#aaa" stroke-width="0.8" fill="none"/>
<path d="M1063.6 543.6 L1339.3 543.6" stroke="#999" stroke-width="0.9" fill="none"/>
<path d="M1063.6 394.6 L1065.8 394.6" stroke="#aaa" stroke-width="0.7" fill="none"/>
<text x="1055.0" y="397.0" font-size="7" text-anchor="end" fill="#1a1a1a" >250</text>
<path d="M1063.6 424.4 L1065.8 424.4" stroke="#aaa" stroke-width="0.7" fill="none"/>
<text x="1055.0" y="426.8" font-size="7" text-anchor="end" fill="#1a1a1a" >200</text>
<path d="M1063.6 454.2 L1065.8 454.2" stroke="#aaa" stroke-width="0.7" fill="none"/>
<text x="1055.0" y="456.6" font-size="7" text-anchor="end" fill="#1a1a1a" >150</text>
<path d="M1063.6 484.0 L1065.8 484.0" stroke="#aaa" stroke-width="0.7" fill="none"/>
<text x="1055.0" y="486.4" font-size="7" text-anchor="end" fill="#1a1a1a" >100</text>
<path d="M1063.6 513.8 L1065.8 513.8" stroke="#aaa" stroke-width="0.7" fill="none"/>
<text x="1055.0" y="516.2" font-size="7" text-anchor="end" fill="#1a1a1a" >50</text>
<path d="M1063.6 543.6 L1065.8 543.6" stroke="#aaa" stroke-width="0.7" fill="none"/>
<text x="1055.0" y="546.0" font-size="7" text-anchor="end" fill="#1a1a1a" >0</text>
<path d="M1339.3 394.6 L1337.1 394.6" stroke="#aaa" stroke-width="0.7" fill="none"/>
<text x="1345.2" y="397.0" font-size="7" text-anchor="start" fill="#1a1a1a" >350%</text>
<path d="M1339.3 411.2 L1337.1 411.2" stroke="#aaa" stroke-width="0.7" fill="none"/>
<text x="1345.2" y="413.6" font-size="7" text-anchor="start" fill="#1a1a1a" >300%</text>
<path d="M1339.3 427.7 L1337.1 427.7" stroke="#aaa" stroke-width="0.7" fill="none"/>
<text x="1345.2" y="430.1" font-size="7" text-anchor="start" fill="#1a1a1a" >250%</text>
<path d="M1339.3 444.3 L1337.1 444.3" stroke="#aaa" stroke-width="0.7" fill="none"/>
<text x="1345.2" y="446.7" font-size="7" text-anchor="start" fill="#1a1a1a" >200%</text>
<path d="M1339.3 460.8 L1337.1 460.8" stroke="#aaa" stroke-width="0.7" fill="none"/>
<text x="1345.2" y="463.2" font-size="7" text-anchor="start" fill="#1a1a1a" >150%</text>
<path d="M1339.3 477.4 L1337.1 477.4" stroke="#aaa" stroke-width="0.7" fill="none"/>
<text x="1345.2" y="479.8" font-size="7" text-anchor="start" fill="#1a1a1a" >100%</text>
<path d="M1339.3 493.9 L1337.1 493.9" stroke="#aaa" stroke-width="0.7" fill="none"/>
<text x="1345.2" y="496.3" font-size="7" text-anchor="start" fill="#1a1a1a" >50%</text>
<path d="M1339.3 510.5 L1337.1 510.5" stroke="#aaa" stroke-width="0.7" fill="none"/>
<text x="1345.2" y="512.9" font-size="7" text-anchor="start" fill="#1a1a1a" >0%</text>
<path d="M1339.3 527.0 L1337.1 527.0" stroke="#aaa" stroke-width="0.7" fill="none"/>
<text x="1345.2" y="529.4" font-size="7" text-anchor="start" fill="#1a1a1a" >-50%</text>
<path d="M1339.3 543.6 L1337.1 543.6" stroke="#aaa" stroke-width="0.7" fill="none"/>
<text x="1345.2" y="546.0" font-size="7" text-anchor="start" fill="#1a1a1a" >-100%</text>
<path d="M1065.4 543.6 L1065.4 541.2" stroke="#888" stroke-width="0.8" fill="none"/>
<text transform="translate(1068.2 551.0) scale(1 0.95) rotate(-45)" font-size="7.5" text-anchor="end" fill="#1a1a1a" >2017-12</text>
<path d="M1088.1 543.6 L1088.1 541.2" stroke="#888" stroke-width="0.8" fill="none"/>
<text transform="translate(1090.9 551.0) scale(1 0.95) rotate(-45)" font-size="7.5" text-anchor="end" fill="#1a1a1a" >2018-06</text>
<path d="M1110.8 543.6 L1110.8 541.2" stroke="#888" stroke-width="0.8" fill="none"/>
<text transform="translate(1113.6 551.0) scale(1 0.95) rotate(-45)" font-size="7.5" text-anchor="end" fill="#1a1a1a" >2018-12</text>
<path d="M1133.5 543.6 L1133.5 541.2" stroke="#888" stroke-width="0.8" fill="none"/>
<text transform="translate(1136.3 551.0) scale(1 0.95) rotate(-45)" font-size="7.5" text-anchor="end" fill="#1a1a1a" >2019-06</text>
<path d="M1156.2 543.6 L1156.2 541.2" stroke="#888" stroke-width="0.8" fill="none"/>
<text transform="translate(1159.0 551.0) scale(1 0.95) rotate(-45)" font-size="7.5" text-anchor="end" fill="#1a1a1a" >2019-12</text>
<path d="M1178.9 543.6 L1178.9 541.2" stroke="#888" stroke-width="0.8" fill="none"/>
<text transform="translate(1181.7 551.0) scale(1 0.95) rotate(-45)" font-size="7.5" text-anchor="end" fill="#1a1a1a" >2020-06</text>
<path d="M1201.6 543.6 L1201.6 541.2" stroke="#888" stroke-width="0.8" fill="none"/>
<text transform="translate(1204.4 551.0) scale(1 0.95) rotate(-45)" font-size="7.5" text-anchor="end" fill="#1a1a1a" >2020-12</text>
<path d="M1224.3 543.6 L1224.3 541.2" stroke="#888" stroke-width="0.8" fill="none"/>
<text transform="translate(1227.1 551.0) scale(1 0.95) rotate(-45)" font-size="7.5" text-anchor="end" fill="#1a1a1a" >2021-06</text>
<path d="M1247.0 543.6 L1247.0 541.2" stroke="#888" stroke-width="0.8" fill="none"/>
<text transform="translate(1249.8 551.0) scale(1 0.95) rotate(-45)" font-size="7.5" text-anchor="end" fill="#1a1a1a" >2021-12</text>
<path d="M1269.7 543.6 L1269.7 541.2" stroke="#888" stroke-width="0.8" fill="none"/>
<text transform="translate(1272.5 551.0) scale(1 0.95) rotate(-45)" font-size="7.5" text-anchor="end" fill="#1a1a1a" >2022-06</text>
<path d="M1292.4 543.6 L1292.4 541.2" stroke="#888" stroke-width="0.8" fill="none"/>
<text transform="translate(1295.2 551.0) scale(1 0.95) rotate(-45)" font-size="7.5" text-anchor="end" fill="#1a1a1a" >2022-12</text>
<path d="M1315.1 543.6 L1315.1 541.2" stroke="#888" stroke-width="0.8" fill="none"/>
<text transform="translate(1317.9 551.0) scale(1 0.95) rotate(-45)" font-size="7.5" text-anchor="end" fill="#1a1a1a" >2023-06</text>
<path d="M1337.8 543.6 L1337.8 541.2" stroke="#888" stroke-width="0.8" fill="none"/>
<text transform="translate(1340.6 551.0) scale(1 0.95) rotate(-45)" font-size="7.5" text-anchor="end" fill="#1a1a1a" >2023-12</text>
<polyline points="1063.6,510.4 1156.1,510.4 1159.5,509.3 1163.6,531.7 1167.4,517.3 1171.1,519.4 1175.1,517.8 1178.7,512.5 1182.5,512.0 1186.3,508.6 1190.2,508.3 1194.0,507.7 1195.0,507.7 1197.4,508.3 1201.3,509.3 1205.1,510.4 1208.8,403.6 1212.6,496.1 1216.5,488.6 1220.2,498.7 1224.0,504.0 1227.8,507.4 1231.7,507.4 1235.4,506.7 1239.1,502.4 1242.9,502.4 1246.8,505.3 1250.5,504.6 1254.3,512.5 1258.0,506.7 1261.7,509.5 1265.5,501.9 1269.2,503.8 1273.0,504.6 1276.8,508.8 1280.7,512.0 1284.4,515.7 1288.2,514.9 1291.9,513.6 1295.6,513.8 1299.5,517.3 1303.2,499.6 1307.0,507.2 1310.8,514.3 1314.6,515.2 1318.4,516.5 1322.1,514.1 1325.9,513.1 1329.6,513.4 1333.5,511.5 1337.4,509.5" fill="none" stroke="#ff1111" stroke-width="1.3" stroke-linejoin="round" />
<rect x="1119.7" y="580.6" width="15" height="3.4" fill="#1271c4"/>
<text x="1139.5" y="584.6" font-size="6.8" fill="#333" text-anchor="start" style="font-family:'Liberation Sans',sans-serif" textLength="146">出口金额:服装及衣着附件:当月值（亿美元）</text>
<path d="M1119.7 596.5 L1134.7 596.5" stroke="#ff1111" stroke-width="1.2" fill="none"/>
<text x="1138.0" y="598.8" font-size="6.8" fill="#333" text-anchor="start" style="font-family:'Liberation Sans',sans-serif" textLength="145">出口金额:服装及衣着附件:当月同比（右轴）</text>
<path d="M1033.4 612.4 L1375.0 612.4" stroke="#333" stroke-width="1" fill="none"/></svg><div class="csrc">数据来源：<span class="w">Wind</span>、开源证券研究所</div><div class="cdate">2024-03-17</div><div class="cline"></div><div class="ctag">其他 | 能源矿产</div><div class="clink">查看原文</div></div>
<div class="card" style="left:60px;top:741.5px"><div class="ctitle">本周涤纶长丝POY价差小幅缩窄</div><svg class="chart" width="438.67" height="411.67" viewBox="60 741.5 438.67 411.67"><path d="M156.1 961.1 L156.1 921.2 L157.5 926.2 L158.9 922.7 L160.3 924.6 L161.2 920.0 L162.2 917.2 L163.1 925.2 L164.0 930.8 L165.0 921.4 L166.4 913.7 L167.7 901.9 L169.1 895.3 L170.3 893.5 L171.5 900.2 L172.4 913.6 L173.8 923.9 L175.2 918.8 L176.1 919.7 L177.0 920.6 L178.0 916.8 L178.9 915.9 L179.8 914.3 L180.7 911.9 L181.7 902.2 L182.6 910.7 L184.0 908.5 L185.4 894.7 L186.3 906.1 L187.7 899.9 L189.1 900.5 L190.5 905.4 L191.9 897.4 L192.8 910.9 L194.2 918.0 L195.6 911.2 L197.0 917.7 L197.9 921.0 L198.9 920.6 L199.8 921.4 L200.7 920.8 L202.1 923.1 L203.3 932.1 L204.4 923.5 L205.8 920.1 L207.2 916.2 L208.1 915.9 L209.1 916.9 L210.5 913.0 L211.4 893.5 L212.8 898.5 L214.2 901.8 L215.6 905.6 L216.5 897.9 L217.4 919.7 L218.4 933.4 L219.3 921.9 L220.7 927.4 L222.1 924.7 L223.5 924.6 L224.9 919.5 L225.8 917.9 L226.7 917.6 L228.1 914.1 L229.5 917.8 L230.9 926.5 L232.3 933.6 L233.7 937.2 L235.1 934.1 L236.5 924.2 L237.9 930.1 L239.2 934.2 L240.2 934.5 L241.1 933.9 L242.5 929.5 L243.4 924.6 L244.4 923.9 L245.3 922.8 L246.2 921.2 L247.1 917.1 L248.1 914.7 L249.5 921.2 L250.8 928.8 L252.2 924.9 L253.6 921.4 L254.6 918.1 L255.5 918.3 L256.4 915.7 L257.3 915.1 L258.7 917.7 L260.1 915.4 L261.5 918.3 L262.9 904.1 L264.3 890.2 L265.2 888.7 L266.6 890.0 L268.0 892.4 L269.0 894.4 L269.9 896.8 L270.8 898.2 L271.7 895.7 L273.1 900.9 L274.5 896.5 L275.9 911.1 L277.3 910.7 L278.7 904.3 L280.1 913.0 L281.5 896.3 L282.9 904.2 L284.3 910.8 L280.0 909.7 L281.4 894.4 L282.3 909.2 L283.7 911.9 L284.6 916.2 L285.6 914.2 L286.5 914.4 L287.4 914.0 L288.4 914.4 L289.3 918.5 L290.2 913.7 L291.1 910.0 L292.5 907.0 L293.5 900.9 L294.4 897.7 L295.8 885.0 L296.7 884.7 L297.6 895.6 L299.0 905.5 L300.4 911.1 L301.8 900.8 L303.2 913.8 L304.6 917.3 L305.5 918.4 L306.5 921.8 L307.9 915.2 L308.8 913.9 L309.7 916.4 L310.6 913.2 L311.6 913.0 L313.0 905.1 L313.9 929.3 L314.8 933.9 L315.7 917.8 L317.1 926.9 L318.5 929.6 L319.9 939.2 L320.9 928.5 L322.2 945.0 L323.6 929.3 L324.6 925.7 L325.5 919.7 L326.4 926.5 L327.4 932.6 L328.7 911.6 L330.1 921.6 L331.5 903.7 L332.9 917.2 L333.9 916.4 L334.8 913.9 L336.2 924.8 L337.6 918.4 L338.5 919.1 L339.4 926.8 L340.4 928.2 L341.3 928.4 L342.2 922.3 L343.1 921.9 L344.1 917.0 L345.0 918.4 L345.9 923.8 L346.9 927.9 L348.2 933.9 L349.6 943.1 L351.0 929.9 L352.4 923.1 L353.4 922.0 L354.3 917.4 L355.2 918.9 L356.1 924.8 L357.1 924.0 L358.0 930.2 L358.9 920.2 L359.9 916.0 L360.8 914.0 L361.7 912.5 L362.6 917.7 L363.6 925.5 L364.5 920.1 L365.4 919.1 L366.8 930.8 L368.2 920.9 L369.1 933.5 L370.1 930.0 L371.0 927.9 L372.4 929.6 L373.8 918.5 L374.7 922.6 L375.6 924.0 L376.6 922.7 L377.5 918.9 L378.4 918.0 L379.4 919.8 L380.3 923.7 L381.2 925.1 L382.1 919.8 L383.1 919.8 L384.0 922.5 L384.9 922.4 L385.8 920.5 L386.8 916.2 L387.7 922.4 L388.6 925.2 L389.6 921.1 L390.5 918.4 L391.4 918.4 L392.3 913.2 L393.1 913.9 L393.9 916.5 L394.7 918.1 L396.1 920.4 L397.5 931.2 L398.4 936.1 L399.3 939.1 L400.7 918.6 L401.6 924.1 L402.6 923.8 L403.5 926.5 L404.4 930.9 L405.3 927.5 L406.3 927.1 L407.2 927.4 L408.1 932.9 L409.1 925.6 L410.0 920.8 L410.9 924.0 L411.8 925.3 L413.2 916.8 L414.3 910.0 L414.3 961.1 Z" fill="#b3a2c7" />
<polyline points="152.0,905.2 152.9,900.2 154.3,898.9 155.2,904.1 156.1,909.1 157.5,905.3 158.9,902.0 160.1,900.7 161.2,899.0 162.4,901.2 163.6,904.1 165.0,898.1 165.9,901.0 166.8,903.4 168.0,900.9 169.1,899.2 170.5,901.4 171.5,900.4 172.4,901.0 173.3,900.4 174.2,901.5 175.6,909.6 176.6,913.4 177.5,916.1 178.9,913.9 180.3,904.3 181.4,896.3 182.6,903.1 184.0,909.7 185.4,918.6 186.3,918.2 187.2,918.5 188.4,918.6 189.6,919.8 190.5,917.8 191.4,918.1 192.4,917.7 193.3,918.5 194.4,919.9 195.6,922.3 196.8,922.7 197.9,924.7 198.9,925.6 199.8,924.3 200.7,924.8 201.6,923.9 202.6,923.6 203.5,923.1 204.4,923.1 205.4,924.7 206.3,924.5 207.2,924.5 208.1,924.5 209.1,924.7 210.5,930.7 211.6,932.0 212.8,932.3 214.2,933.3 215.6,937.2 217.0,942.0 218.4,945.7 219.3,946.0 220.2,947.4 221.1,947.9 222.5,944.8 223.7,943.2 224.9,942.2 225.8,940.5 226.7,940.9 227.6,939.8 228.6,939.9 229.5,940.7 230.4,940.7 231.4,940.3 232.5,940.6 233.7,941.3 235.1,940.4 236.0,941.1 236.9,940.9 237.9,940.0 238.8,940.5 239.7,941.7 240.6,941.2 241.6,942.5 242.5,942.9 243.4,944.2 244.4,943.7 245.3,942.8 246.2,944.3 247.1,945.5 248.5,947.9 249.5,945.5 250.4,942.8 251.5,941.3 252.7,941.5 253.6,940.6 254.6,939.5 255.5,938.0 256.7,937.3 257.8,936.7 259.0,936.0 260.1,935.0 261.1,934.7 262.0,933.0 263.4,925.4 264.8,926.1 265.7,928.1 266.6,930.1 267.8,930.8 269.0,928.9 270.1,928.2 271.3,926.1 272.4,926.3 273.6,927.5 274.8,926.0 275.9,926.3 276.8,925.2 277.8,924.6 278.7,924.0 279.6,921.7 280.6,918.6 281.7,917.1 282.9,917.4 284.3,915.7 280.0,917.2 280.9,918.7 281.9,920.6 282.8,918.6 283.7,917.3 284.6,918.1 285.6,918.7 286.7,920.3 287.9,922.4 288.8,923.4 289.7,924.0 290.9,922.1 292.1,919.6 293.0,919.9 293.9,918.3 295.0,914.8 296.2,916.8 297.2,920.4 298.1,921.6 299.0,923.3 300.0,925.2 301.4,928.8 302.3,927.1 303.2,926.5 304.1,924.7 305.1,922.1 306.0,921.4 306.9,917.5 307.9,918.7 308.8,916.8 309.7,914.9 310.6,914.3 311.6,914.8 312.5,914.2 313.9,915.7 314.5,902.5 315.7,904.8 317.1,904.8 318.1,906.6 319.0,907.6 319.9,906.9 320.9,907.0 321.8,905.2 322.7,902.4 323.6,900.9 324.6,898.5 325.5,897.6 326.4,896.3 327.4,886.1 328.3,895.0 329.2,896.6 330.1,900.0 331.5,901.4 332.7,912.0 334.3,908.2 335.2,908.1 336.2,906.3 337.1,906.7 338.0,905.6 339.0,902.7 339.9,901.4 340.8,901.4 341.7,901.3 342.7,903.6 343.6,905.1 345.0,909.8 345.9,911.1 346.9,912.1 347.8,912.7 348.7,913.0 349.6,914.2 350.6,916.4 351.5,917.2 352.4,918.5 353.4,918.3 354.3,916.5 355.2,916.1 356.1,915.7 357.1,913.9 358.0,912.6 358.9,911.1 359.9,913.8 360.8,915.4 361.7,914.5 362.6,913.0 363.6,913.2 364.5,911.5 365.7,908.6 366.8,905.4 368.2,903.2 369.6,902.3 370.5,903.9 371.5,904.5 372.4,910.0 373.3,912.9 374.5,914.1 375.6,914.0 376.8,913.5 378.0,913.5 379.1,913.5 380.3,913.8 381.2,910.8 382.1,908.9 383.3,908.8 384.5,907.3 385.6,908.4 386.8,909.9 387.9,907.7 389.1,906.0 390.5,903.1 391.4,904.8 392.3,905.9 393.5,907.6 394.7,909.0 395.8,908.9 397.0,909.1 397.9,909.8 398.8,908.9 399.8,910.1 400.7,913.2 401.6,912.8 402.6,913.5 403.7,912.2 404.9,909.7 406.0,910.7 407.2,910.5 408.4,910.0 409.5,908.2 410.7,908.6 411.8,908.7 412.7,910.1 413.5,909.0 414.3,910.0" fill="none" stroke="#0070c0" stroke-width="1.7" stroke-linejoin="round" />
<polyline points="152.0,909.5 153.4,911.2 154.7,914.5 155.7,917.8 156.6,918.9 157.5,920.2 158.7,921.4 159.9,920.9 161.0,921.3 162.2,920.7 163.1,920.3 164.0,920.9 165.0,917.4 165.9,919.1 166.8,918.7 168.2,923.5 169.1,925.4 170.1,925.2 171.2,927.5 172.4,927.3 173.6,929.6 174.7,931.6 175.9,932.0 177.0,930.7 178.0,931.2 178.9,929.4 179.8,929.8 180.7,928.3 182.1,932.2 183.1,929.2 184.0,927.2 184.9,927.8 185.9,929.2 186.8,928.3 187.7,928.4 188.9,926.4 190.0,924.6 191.4,918.2 192.4,917.8 193.3,919.8 194.2,920.0 195.6,926.5 196.5,926.5 197.5,927.5 198.6,926.0 199.8,927.4 200.7,926.6 201.6,926.0 203.0,919.8 203.7,909.4 204.4,919.7 205.8,920.6 207.2,916.5 208.6,919.4 210.0,921.2 210.9,929.3 211.9,930.1 212.8,930.5 213.7,931.1 214.6,930.6 216.0,936.4 217.0,942.0 217.9,948.6 218.8,943.5 220.2,942.0 221.1,942.7 222.1,942.2 223.0,941.8 223.9,941.9 225.1,941.3 226.2,939.2 227.4,939.9 228.6,941.4 229.5,940.6 230.4,940.8 231.4,941.5 232.3,943.0 233.2,941.5 234.1,940.4 235.3,939.0 236.5,937.6 237.6,937.5 238.8,937.7 240.2,935.8 241.1,936.6 242.0,938.1 243.0,938.5 243.9,938.5 244.8,937.8 245.7,936.3 246.7,936.9 247.6,938.8 248.5,939.4 249.5,939.6 250.4,938.2 251.3,937.5 252.2,937.5 253.2,937.6 254.1,935.5 255.0,934.9 256.4,930.5 257.8,926.2 258.7,927.4 259.7,927.8 261.1,924.1 262.5,921.5 263.4,905.5 264.3,904.3 265.2,914.2 266.6,918.7 267.6,918.5 268.5,918.8 269.4,919.4 270.3,920.1 271.7,923.6 272.7,923.4 273.6,922.0 275.0,919.0 276.4,922.3 277.3,921.7 278.2,921.9 279.2,922.3 280.1,921.7 281.0,920.4 282.0,919.3 282.9,918.0 283.8,916.3 280.0,921.7 280.9,919.3 281.9,918.3 282.8,916.4 283.7,916.2 284.6,916.2 285.6,917.3 286.5,917.8 287.4,920.5 288.4,919.4 289.3,917.6 290.4,916.5 291.6,914.3 293.0,903.8 294.4,897.7 295.6,890.0 296.7,910.2 297.6,913.8 298.6,917.0 299.7,919.0 300.9,922.0 302.1,923.3 303.2,923.0 304.4,923.6 305.5,923.6 306.5,921.4 307.4,919.1 308.6,918.0 309.7,916.2 310.6,918.7 311.6,920.3 312.5,921.6 313.4,922.6 314.8,914.3 315.7,918.6 316.7,920.1 317.6,920.5 318.8,922.4 319.9,924.6 320.9,924.5 321.8,926.3 322.7,924.7 323.6,922.6 324.6,922.5 325.5,924.6 326.7,922.7 327.8,921.0 328.7,925.9 330.1,929.6 331.1,930.6 332.0,931.4 332.9,931.0 333.9,930.2 334.8,932.7 335.7,934.4 336.9,935.0 338.0,935.5 339.2,932.6 340.4,929.8 341.3,929.7 342.2,931.2 343.1,930.3 344.1,929.8 345.0,932.7 345.9,933.9 346.9,935.3 347.8,936.6 348.9,937.1 350.1,936.3 351.3,936.2 352.4,934.4 353.6,935.6 354.7,934.1 355.9,934.3 357.1,933.3 358.0,931.9 358.9,930.6 360.1,931.4 361.2,932.7 362.2,931.9 363.1,931.4 364.3,932.3 365.4,934.3 366.6,933.1 367.7,933.2 368.9,933.5 370.1,933.3 371.0,933.0 371.9,932.7 372.9,931.8 374.0,934.4 375.2,935.4 376.3,935.7 377.5,936.3 378.7,935.9 379.8,936.2 381.0,934.8 382.1,933.4 383.3,933.6 384.5,933.8 385.6,933.9 386.8,934.6 387.9,933.8 389.1,933.5 390.0,933.2 391.0,932.0 391.9,934.0 392.8,935.1 393.7,934.3 394.7,935.1 395.6,934.1 396.5,933.5 397.5,934.5 398.4,932.5 399.5,932.9 400.7,934.7 401.6,932.4 402.6,932.5 403.5,930.5 404.4,928.1 405.6,927.7 406.7,928.4 407.9,926.5 409.1,925.4 410.2,925.9 411.4,926.6 412.3,926.2 413.3,926.2 414.3,927.2" fill="none" stroke="#f7a530" stroke-width="1.7" stroke-linejoin="round" />
<polyline points="156.0,878.5 156.6,880.0 157.5,879.3 158.5,878.5 159.1,876.5 160.2,875.1 161.2,875.1 162.2,875.3 163.1,876.5 164.5,878.1 165.0,872.6 165.9,871.1 166.8,867.8 167.7,867.8 168.7,867.9 169.6,867.0 171.0,867.3 171.9,871.8 172.9,874.6 173.8,879.3 174.7,882.9 176.1,888.4 177.5,888.4 178.4,885.3 179.4,882.2 180.4,876.0 181.4,868.9 182.6,876.5 183.5,880.2 184.5,883.5 185.9,887.9 187.2,884.6 188.4,885.5 189.6,886.1 190.7,883.8 191.9,883.3 193.3,885.1 194.2,888.9 195.1,891.2 196.1,893.4 197.0,895.3 198.2,896.9 199.3,898.3 200.7,896.5 201.6,897.2 202.6,897.1 203.5,895.8 204.4,895.0 205.6,893.4 206.7,893.0 207.6,892.4 208.4,894.0 209.2,893.5 210.0,893.6 210.8,892.8 211.6,892.7 212.4,893.2 213.2,894.0 214.6,897.7 215.6,901.0 216.5,904.3 217.9,916.2 218.8,925.1 219.7,917.2 220.7,923.0 222.1,923.4 223.5,917.9 224.9,916.4 225.8,916.0 226.7,914.2 227.6,912.6 228.6,911.6 230.0,914.2 230.9,918.3 231.8,921.3 232.7,922.8 233.7,924.8 235.1,920.7 236.5,917.5 237.4,919.0 238.3,920.1 239.5,920.6 240.6,920.9 241.6,921.6 242.5,922.5 243.4,920.7 244.4,919.1 245.3,917.4 246.2,915.9 247.1,916.5 248.1,918.6 249.0,918.7 249.9,920.5 250.8,920.6 251.8,918.9 252.7,919.2 253.6,916.2 254.6,912.4 255.5,909.8 256.4,909.0 257.3,906.8 258.7,904.7 260.1,908.7 261.5,904.1 262.7,895.3 263.8,883.6 265.2,881.3 266.6,886.9 267.6,888.1 268.5,889.0 269.4,889.8 270.3,890.0 271.3,890.6 272.2,888.8 273.1,889.5 274.1,888.5 275.0,889.8 275.9,891.8 276.8,893.6 277.8,893.2 279.2,891.9 280.1,887.9 281.0,882.8 282.0,883.0 282.9,882.7 284.3,884.8 280.0,885.7 280.9,883.5 281.9,882.8 283.0,882.2 284.2,882.6 285.1,883.7 286.0,886.5 287.0,887.4 287.9,889.9 288.8,892.1 289.7,893.1 290.7,891.8 291.6,891.0 292.5,888.6 293.5,885.7 294.4,872.1 295.3,872.1 296.2,870.3 297.6,879.1 298.6,883.2 299.5,887.2 300.7,890.6 301.8,893.6 303.0,895.5 304.1,898.5 305.1,895.4 306.0,890.7 306.9,888.0 307.9,885.3 308.8,885.3 309.7,885.6 310.6,883.1 311.6,881.9 312.5,881.9 313.4,883.2 314.8,877.5 316.2,881.9 317.1,882.4 318.1,883.1 319.5,886.6 320.9,883.2 322.2,885.6 323.2,880.4 324.1,877.3 325.0,876.2 326.0,874.1 327.5,865.0 328.7,868.1 330.1,876.5 331.5,880.6 332.7,886.6 334.3,884.1 335.2,884.0 336.2,883.7 337.3,882.7 338.5,883.8 339.7,881.5 340.8,879.0 341.7,880.6 342.7,881.4 344.1,883.5 345.0,884.9 345.9,887.8 346.9,891.0 347.8,895.7 348.7,897.0 349.6,897.4 351.0,898.9 352.0,896.4 352.9,893.8 353.8,893.8 354.7,891.0 355.9,891.5 357.1,891.6 358.2,889.2 359.4,888.2 360.5,890.0 361.7,890.2 362.9,889.9 364.0,888.1 365.0,890.4 365.9,891.3 367.3,886.2 368.4,882.6 369.6,886.5 370.5,886.4 371.5,887.2 372.6,889.7 373.8,890.9 374.9,890.1 376.1,888.4 377.3,889.2 378.4,890.3 379.6,890.5 380.7,891.1 382.1,887.6 383.3,886.5 384.5,886.6 385.6,886.4 386.8,886.8 387.9,885.7 389.1,884.0 390.0,881.7 391.0,879.6 391.9,882.0 392.8,883.5 394.0,885.2 395.1,886.6 396.1,888.4 397.0,890.9 398.2,892.0 399.3,890.7 400.2,890.0 401.2,889.2 402.1,890.0 403.0,890.7 404.2,888.7 405.3,888.2 406.3,887.8 407.2,888.4 408.4,886.7 409.5,885.5 410.7,885.6 411.8,884.7 412.7,883.6 413.5,883.3 414.3,882.6" fill="none" stroke="#c00000" stroke-width="1.7" stroke-linejoin="round" />
<path d="M151.7 855.4 L151.7 961.1" stroke="#999" stroke-width="0.8" fill="none"/>
<path d="M414.4 855.4 L414.4 961.1" stroke="#bbb" stroke-width="0.8" fill="none"/>
<path d="M151.7 961.1 L414.4 961.1" stroke="#777" stroke-width="0.9" fill="none"/>
<path d="M151.7 855.4 L153.9 855.4" stroke="#aaa" stroke-width="0.7" fill="none"/>
<text x="142.6" y="858.1" font-size="8.2" text-anchor="end" fill="#1a1a1a" >10,000</text>
<path d="M151.7 868.6 L153.9 868.6" stroke="#aaa" stroke-width="0.7" fill="none"/>
<text x="142.6" y="871.3" font-size="8.2" text-anchor="end" fill="#1a1a1a" >9,000</text>
<path d="M151.7 881.8 L153.9 881.8" stroke="#aaa" stroke-width="0.7" fill="none"/>
<text x="142.6" y="884.5" font-size="8.2" text-anchor="end" fill="#1a1a1a" >8,000</text>
<path d="M151.7 895.0 L153.9 895.0" stroke="#aaa" stroke-width="0.7" fill="none"/>
<text x="142.6" y="897.7" font-size="8.2" text-anchor="end" fill="#1a1a1a" >7,000</text>
<path d="M151.7 908.2 L153.9 908.2" stroke="#aaa" stroke-width="0.7" fill="none"/>
<text x="142.6" y="911.0" font-size="8.2" text-anchor="end" fill="#1a1a1a" >6,000</text>
<path d="M151.7 921.5 L153.9 921.5" stroke="#aaa" stroke-width="0.7" fill="none"/>
<text x="142.6" y="924.2" font-size="8.2" text-anchor="end" fill="#1a1a1a" >5,000</text>
<path d="M151.7 934.7 L153.9 934.7" stroke="#aaa" stroke-width="0.7" fill="none"/>
<text x="142.6" y="937.4" font-size="8.2" text-anchor="end" fill="#1a1a1a" >4,000</text>
<path d="M151.7 947.9 L153.9 947.9" stroke="#aaa" stroke-width="0.7" fill="none"/>
<text x="142.6" y="950.6" font-size="8.2" text-anchor="end" fill="#1a1a1a" >3,000</text>
<path d="M151.7 961.1 L153.9 961.1" stroke="#aaa" stroke-width="0.7" fill="none"/>
<text x="142.6" y="963.8" font-size="8.2" text-anchor="end" fill="#1a1a1a" >2,000</text>
<path d="M414.4 855.4 L412.2 855.4" stroke="#bbb" stroke-width="0.7" fill="none"/>
<text x="422.0" y="858.1" font-size="8.2" text-anchor="start" fill="#1a1a1a" >3,000</text>
<path d="M414.4 873.0 L412.2 873.0" stroke="#bbb" stroke-width="0.7" fill="none"/>
<text x="422.0" y="875.7" font-size="8.2" text-anchor="start" fill="#1a1a1a" >2,500</text>
<path d="M414.4 890.6 L412.2 890.6" stroke="#bbb" stroke-width="0.7" fill="none"/>
<text x="422.0" y="893.3" font-size="8.2" text-anchor="start" fill="#1a1a1a" >2,000</text>
<path d="M414.4 908.2 L412.2 908.2" stroke="#bbb" stroke-width="0.7" fill="none"/>
<text x="422.0" y="911.0" font-size="8.2" text-anchor="start" fill="#1a1a1a" >1,500</text>
<path d="M414.4 925.9 L412.2 925.9" stroke="#bbb" stroke-width="0.7" fill="none"/>
<text x="422.0" y="928.6" font-size="8.2" text-anchor="start" fill="#1a1a1a" >1,000</text>
<path d="M414.4 943.5 L412.2 943.5" stroke="#bbb" stroke-width="0.7" fill="none"/>
<text x="422.0" y="946.2" font-size="8.2" text-anchor="start" fill="#1a1a1a" >500</text>
<path d="M414.4 961.1 L412.2 961.1" stroke="#bbb" stroke-width="0.7" fill="none"/>
<text x="422.0" y="963.8" font-size="8.2" text-anchor="start" fill="#1a1a1a" >0</text>
<path d="M151.7 961.1 L151.7 958.9" stroke="#666" stroke-width="0.8" fill="none"/>
<text transform="translate(153.8 965.2) rotate(-90)" font-size="6.5" text-anchor="end" fill="#1a1a1a" >2018-12</text>
<path d="M164.2 961.1 L164.2 958.9" stroke="#666" stroke-width="0.8" fill="none"/>
<text transform="translate(166.3 965.2) rotate(-90)" font-size="6.5" text-anchor="end" fill="#1a1a1a" >2019-03</text>
<path d="M176.7 961.1 L176.7 958.9" stroke="#666" stroke-width="0.8" fill="none"/>
<text transform="translate(178.8 965.2) rotate(-90)" font-size="6.5" text-anchor="end" fill="#1a1a1a" >2019-06</text>
<path d="M189.2 961.1 L189.2 958.9" stroke="#666" stroke-width="0.8" fill="none"/>
<text transform="translate(191.3 965.2) rotate(-90)" font-size="6.5" text-anchor="end" fill="#1a1a1a" >2019-09</text>
<path d="M201.7 961.1 L201.7 958.9" stroke="#666" stroke-width="0.8" fill="none"/>
<text transform="translate(203.8 965.2) rotate(-90)" font-size="6.5" text-anchor="end" fill="#1a1a1a" >2019-12</text>
<path d="M214.2 961.1 L214.2 958.9" stroke="#666" stroke-width="0.8" fill="none"/>
<text transform="translate(216.3 965.2) rotate(-90)" font-size="6.5" text-anchor="end" fill="#1a1a1a" >2020-03</text>
<path d="M226.8 961.1 L226.8 958.9" stroke="#666" stroke-width="0.8" fill="none"/>
<text transform="translate(228.9 965.2) rotate(-90)" font-size="6.5" text-anchor="end" fill="#1a1a1a" >2020-06</text>
<path d="M239.3 961.1 L239.3 958.9" stroke="#666" stroke-width="0.8" fill="none"/>
<text transform="translate(241.4 965.2) rotate(-90)" font-size="6.5" text-anchor="end" fill="#1a1a1a" >2020-09</text>
<path d="M251.8 961.1 L251.8 958.9" stroke="#666" stroke-width="0.8" fill="none"/>
<text transform="translate(253.9 965.2) rotate(-90)" font-size="6.5" text-anchor="end" fill="#1a1a1a" >2020-12</text>
<path d="M264.3 961.1 L264.3 958.9" stroke="#666" stroke-width="0.8" fill="none"/>
<text transform="translate(266.4 965.2) rotate(-90)" font-size="6.5" text-anchor="end" fill="#1a1a1a" >2021-03</text>
<path d="M276.8 961.1 L276.8 958.9" stroke="#666" stroke-width="0.8" fill="none"/>
<text transform="translate(278.9 965.2) rotate(-90)" font-size="6.5" text-anchor="end" fill="#1a1a1a" >2021-06</text>
<path d="M289.3 961.1 L289.3 958.9" stroke="#666" stroke-width="0.8" fill="none"/>
<text transform="translate(291.4 965.2) rotate(-90)" font-size="6.5" text-anchor="end" fill="#1a1a1a" >2021-09</text>
<path d="M301.8 961.1 L301.8 958.9" stroke="#666" stroke-width="0.8" fill="none"/>
<text transform="translate(303.9 965.2) rotate(-90)" font-size="6.5" text-anchor="end" fill="#1a1a1a" >2021-12</text>
<path d="M314.3 961.1 L314.3 958.9" stroke="#666" stroke-width="0.8" fill="none"/>
<text transform="translate(316.4 965.2) rotate(-90)" font-size="6.5" text-anchor="end" fill="#1a1a1a" >2022-03</text>
<path d="M326.8 961.1 L326.8 958.9" stroke="#666" stroke-width="0.8" fill="none"/>
<text transform="translate(328.9 965.2) rotate(-90)" font-size="6.5" text-anchor="end" fill="#1a1a1a" >2022-06</text>
<path d="M339.3 961.1 L339.3 958.9" stroke="#666" stroke-width="0.8" fill="none"/>
<text transform="translate(341.4 965.2) rotate(-90)" font-size="6.5" text-anchor="end" fill="#1a1a1a" >2022-09</text>
<path d="M351.9 961.1 L351.9 958.9" stroke="#666" stroke-width="0.8" fill="none"/>
<text transform="translate(354.0 965.2) rotate(-90)" font-size="6.5" text-anchor="end" fill="#1a1a1a" >2022-12</text>
<path d="M364.4 961.1 L364.4 958.9" stroke="#666" stroke-width="0.8" fill="none"/>
<text transform="translate(366.5 965.2) rotate(-90)" font-size="6.5" text-anchor="end" fill="#1a1a1a" >2023-03</text>
<path d="M376.9 961.1 L376.9 958.9" stroke="#666" stroke-width="0.8" fill="none"/>
<text transform="translate(379.0 965.2) rotate(-90)" font-size="6.5" text-anchor="end" fill="#1a1a1a" >2023-06</text>
<path d="M389.4 961.1 L389.4 958.9" stroke="#666" stroke-width="0.8" fill="none"/>
<text transform="translate(391.5 965.2) rotate(-90)" font-size="6.5" text-anchor="end" fill="#1a1a1a" >2023-09</text>
<path d="M401.9 961.1 L401.9 958.9" stroke="#666" stroke-width="0.8" fill="none"/>
<text transform="translate(404.0 965.2) rotate(-90)" font-size="6.5" text-anchor="end" fill="#1a1a1a" >2023-12</text>
<path d="M414.4 961.1 L414.4 958.9" stroke="#666" stroke-width="0.8" fill="none"/>
<text transform="translate(416.5 965.2) rotate(-90)" font-size="6.5" text-anchor="end" fill="#1a1a1a" >2024-03</text>
<text x="280.3" y="847.8" font-size="9" text-anchor="middle" fill="#1a1a1a" textLength="116">POY-PTA/MEG<tspan style="font-family:'Liberation Sans',sans-serif" font-size="8">价格与价差</tspan></text>
<text x="156.5" y="865.3" font-size="6.6" fill="#444" text-anchor="start" style="font-family:'Liberation Sans',sans-serif">元/吨</text>
<text x="386.5" y="865.3" font-size="6.6" fill="#444" text-anchor="start" style="font-family:'Liberation Sans',sans-serif">元/吨</text>
<rect x="206.2" y="996.4" width="16.2" height="4.2" fill="#b3a2c7"/>
<text x="224" y="1001.2" font-size="7.5" fill="#1a1a1a" textLength="137">POY-MEG×0.34-PTA×0.86<tspan style="font-family:'Liberation Sans',sans-serif" font-size="6.6">（右轴）</tspan></text>
<path d="M206.0 1008.3 L222.4 1008.3" stroke="#0070c0" stroke-width="1.1" fill="none"/>
<text x="224" y="1010.9" font-size="7.5" fill="#1a1a1a">PTA<tspan style="font-family:'Liberation Sans',sans-serif" font-size="7.3" dx="0.5">价格</tspan></text>
<path d="M206.0 1017.9 L222.4 1017.9" stroke="#c00000" stroke-width="1.1" fill="none"/>
<text x="224" y="1020.5" font-size="7.5" fill="#1a1a1a">POY<tspan style="font-family:'Liberation Sans',sans-serif" font-size="7.3" dx="0.5">价格</tspan></text>
<path d="M206.0 1027.5 L222.4 1027.5" stroke="#f7a530" stroke-width="1.1" fill="none"/>
<text x="224" y="1030.1" font-size="7.5" fill="#1a1a1a">MEG<tspan style="font-family:'Liberation Sans',sans-serif" font-size="7.3" dx="0.5">价格</tspan></text>
<path d="M109.6 1037.3 L452.0 1037.3" stroke="#333" stroke-width="1" fill="none"/></svg><div class="csrc">数据来源：<span class="w">Wind</span>、百川盈孚、开源证券研究所</div><div class="cdate">2024-03-17</div><div class="cline"></div><div class="ctag">其他 | 能源矿产</div><div class="clink">查看原文</div></div>
<div class="card" style="left:521.67px;top:741.5px"><div class="ctitle">截至<span class="n">3</span>月<span class="n">13</span>日，江浙织机负荷率为<span class="n">69%</span></div><svg class="chart" width="438.67" height="411.67" viewBox="521.67 741.5 438.67 411.67"><polyline points="610.3,889.0 610.8,882.0 612.0,881.5 612.8,878.5 614.0,876.0 615.0,873.0 616.0,874.5 617.5,874.5 619.0,876.0 620.0,881.5 621.2,881.5 621.8,877.5 622.5,884.5 623.2,878.5 624.5,879.0 625.2,890.0 625.5,906.5 626.0,888.0 626.5,886.5 627.0,900.0 627.5,891.0 628.2,895.0 628.8,914.0 629.2,954.5 629.6,954.5 630.0,914.0 630.5,904.0 631.0,889.0 631.8,890.0 632.5,895.5 633.2,885.0 634.2,884.8 635.0,890.0 635.8,895.0 637.0,897.0 637.8,912.0 638.5,911.0 639.0,900.0 640.0,890.0 641.0,882.0 642.0,884.5 643.5,886.5 645.0,888.0 647.0,887.5 649.7,887.5 650.3,899.0 651.2,904.0 651.6,969.5 652.2,969.5 652.6,865.5 653.4,865.5 653.8,877.5 655.0,876.5 656.5,875.5 658.0,876.2 659.5,876.8 661.2,879.0 662.0,886.0 662.8,885.5 663.5,877.0 665.0,876.2 667.0,876.8 669.0,879.0 670.0,883.0 671.2,885.5 671.6,902.0 672.0,947.5 673.0,947.5 673.5,913.0 674.0,886.0 675.2,868.0 676.5,865.5 677.2,878.5 678.0,872.5 678.7,878.0 679.5,873.0 680.0,880.0 681.2,886.0 682.5,897.5 683.5,889.0 684.8,871.0 686.0,870.0 687.0,871.0 688.0,865.5 689.5,868.5 690.5,875.0 691.5,879.0 692.5,884.5 693.5,900.0 694.0,930.0 694.5,969.5 695.2,969.5 695.7,918.0 696.2,890.0 696.8,871.0 698.0,867.5 699.3,867.5 700.0,877.0 701.0,881.0 702.0,882.0 703.0,890.0 704.5,896.0 705.5,882.0 706.5,880.0 707.2,886.0 707.8,893.5 708.5,878.0 709.5,877.0 710.5,879.0 711.2,887.0 712.2,892.0 713.2,904.0 714.0,928.0 714.5,973.5 715.5,973.5 716.0,920.0 716.5,892.0 717.0,868.5 718.2,868.5 719.0,871.5 719.8,879.0 720.5,875.5 721.5,876.0 722.5,884.5 723.2,879.0 724.0,880.0 724.7,884.0 725.2,896.0 725.8,882.0 726.5,882.0 727.0,897.5 727.5,886.0 728.0,872.0 728.7,864.5 729.5,859.5 730.5,862.0 731.0,868.5 732.0,870.0 733.0,871.5 733.5,884.0 734.5,896.0 735.0,909.0 735.5,960.0 736.0,983.3 736.6,983.3 737.0,929.0 737.2,868.0 738.5,867.5 739.5,863.5 740.5,868.5 741.2,863.5 742.0,868.0 743.2,868.0 744.0,872.5 745.5,873.0 745.5,873.0 746.0,902.5 746.5,878.0 747.5,870.0 748.2,878.0 749.0,870.5 749.8,878.0 750.8,871.0 751.8,874.0 752.5,868.0 753.2,873.0 753.8,887.5 754.5,882.0 755.5,882.0 756.2,887.5 757.0,895.0 757.2,924.0 757.6,959.0 758.2,959.0 758.8,924.0 759.2,890.0 759.6,869.0 760.5,852.5 761.8,852.5 763.0,858.0 764.2,862.0 765.5,864.5 766.2,868.0 766.6,879.0 767.2,871.5 767.8,875.0 768.2,888.0 769.0,875.0 769.5,889.0 770.2,886.0 770.8,894.5 771.4,878.0 772.5,878.5 773.5,881.0 774.5,883.0 775.5,884.5 776.5,883.0 777.2,890.0 777.7,906.0 778.0,938.5 778.5,938.5 779.0,906.0 779.5,888.0 780.0,875.0 780.5,858.5 782.0,858.5 782.5,864.0 783.5,864.5 784.2,872.5 785.0,874.0 785.5,878.5 786.5,870.0 787.5,874.0 788.0,893.0 789.0,893.0 789.5,879.0 790.5,867.5 791.5,868.5 792.5,878.5 793.2,870.0 794.0,874.0 795.5,875.0 796.5,884.0 797.2,888.0 797.5,940.0 798.0,960.0 798.8,971.5 799.5,960.0 800.5,940.0 801.0,906.0 801.5,882.5 802.2,882.5 803.0,904.0 803.8,912.0 804.5,923.5 805.0,910.0 805.5,890.0 806.5,886.5 807.5,894.0 808.5,898.0 809.5,902.0 810.5,892.0 811.5,884.0 812.5,876.0 813.5,872.0 814.0,860.0 814.5,847.0 816.0,848.0 816.8,858.0 817.5,868.0 818.5,871.0 819.5,873.0 820.0,896.0 820.5,930.0 821.2,959.5 821.6,930.0 822.0,894.0 822.8,863.0 823.8,861.5 824.5,858.0 825.5,861.5 826.5,864.5 827.2,868.5 827.8,879.0 829.0,879.0 829.8,872.0 830.5,867.5 831.5,870.0 832.5,876.0 833.5,880.0 834.3,884.0 834.5,913.0 835.5,902.0 836.0,894.0 836.8,886.0 837.8,885.0 838.5,892.0 839.5,894.0 840.5,898.0 840.8,924.0 841.3,972.5 842.0,972.5 842.5,940.0 843.0,916.0 843.5,883.5 844.2,884.0 845.0,894.0 845.5,916.0 846.2,916.0 846.8,904.0 847.5,898.0 848.5,904.0 849.5,898.5 850.5,906.0 851.5,910.0 852.2,913.5 853.2,913.0 853.8,900.0 854.5,886.0 855.0,879.0 855.8,879.5 856.5,882.0 857.5,882.5 858.0,898.0 859.0,904.0 860.0,908.0 860.5,913.0 861.0,930.0 861.5,950.0 862.0,978.5 862.8,978.5 863.2,950.0 863.6,920.0 864.0,892.0 864.5,881.5 865.5,882.0 866.2,885.0 866.7,904.5 867.8,904.5 868.2,913.5 868.5,897.0 869.5,895.5 870.8,895.0 871.5,892.5 872.5,891.0 873.5,892.0 874.5,891.5 875.5,889.5 876.8,887.5 878.0,887.5 878.5,875.0 879.5,873.0 880.5,872.5 881.5,876.0 882.5,878.5 883.5,882.5 883.8,910.0 884.2,950.0 884.8,974.0 885.4,981.0 885.8,950.0 886.0,901.5 886.5,883.0" fill="none" stroke="#0f73c5" stroke-width="1.1" stroke-linejoin="round" />
<path d="M610.3 838.5 L610.3 983.3" stroke="#bbb" stroke-width="0.8" fill="none"/>
<path d="M610.3 983.3 L886.0 983.3" stroke="#444" stroke-width="1" fill="none"/>
<path d="M610.3 838.5 L612.7 838.5" stroke="#777" stroke-width="0.7" fill="none"/>
<text x="600.8" y="841.3" font-size="8.4" text-anchor="end" fill="#1a1a1a" >100</text>
<path d="M610.3 867.5 L612.7 867.5" stroke="#777" stroke-width="0.7" fill="none"/>
<text x="600.8" y="870.3" font-size="8.4" text-anchor="end" fill="#1a1a1a" >80</text>
<path d="M610.3 896.4 L612.7 896.4" stroke="#777" stroke-width="0.7" fill="none"/>
<text x="600.8" y="899.2" font-size="8.4" text-anchor="end" fill="#1a1a1a" >60</text>
<path d="M610.3 925.4 L612.7 925.4" stroke="#777" stroke-width="0.7" fill="none"/>
<text x="600.8" y="928.2" font-size="8.4" text-anchor="end" fill="#1a1a1a" >40</text>
<path d="M610.3 954.3 L612.7 954.3" stroke="#777" stroke-width="0.7" fill="none"/>
<text x="600.8" y="957.1" font-size="8.4" text-anchor="end" fill="#1a1a1a" >20</text>
<path d="M610.3 983.3 L612.7 983.3" stroke="#777" stroke-width="0.7" fill="none"/>
<text x="600.8" y="986.1" font-size="8.4" text-anchor="end" fill="#1a1a1a" >0</text>
<path d="M610.3 983.3 L610.3 980.9" stroke="#666" stroke-width="0.8" fill="none"/>
<text transform="translate(613.1 990.4) rotate(-45)" font-size="8.6" text-anchor="end" fill="#1a1a1a" >2011-03</text>
<path d="M631.5 983.3 L631.5 980.9" stroke="#666" stroke-width="0.8" fill="none"/>
<text transform="translate(634.3 990.4) rotate(-45)" font-size="8.6" text-anchor="end" fill="#1a1a1a" >2012-03</text>
<path d="M652.7 983.3 L652.7 980.9" stroke="#666" stroke-width="0.8" fill="none"/>
<text transform="translate(655.5 990.4) rotate(-45)" font-size="8.6" text-anchor="end" fill="#1a1a1a" >2013-03</text>
<path d="M673.9 983.3 L673.9 980.9" stroke="#666" stroke-width="0.8" fill="none"/>
<text transform="translate(676.7 990.4) rotate(-45)" font-size="8.6" text-anchor="end" fill="#1a1a1a" >2014-03</text>
<path d="M695.1 983.3 L695.1 980.9" stroke="#666" stroke-width="0.8" fill="none"/>
<text transform="translate(697.9 990.4) rotate(-45)" font-size="8.6" text-anchor="end" fill="#1a1a1a" >2015-03</text>
<path d="M716.3 983.3 L716.3 980.9" stroke="#666" stroke-width="0.8" fill="none"/>
<text transform="translate(719.1 990.4) rotate(-45)" font-size="8.6" text-anchor="end" fill="#1a1a1a" >2016-03</text>
<path d="M737.5 983.3 L737.5 980.9" stroke="#666" stroke-width="0.8" fill="none"/>
<text transform="translate(740.3 990.4) rotate(-45)" font-size="8.6" text-anchor="end" fill="#1a1a1a" >2017-03</text>
<path d="M758.8 983.3 L758.8 980.9" stroke="#666" stroke-width="0.8" fill="none"/>
<text transform="translate(761.6 990.4) rotate(-45)" font-size="8.6" text-anchor="end" fill="#1a1a1a" >2018-03</text>
<path d="M780.0 983.3 L780.0 980.9" stroke="#666" stroke-width="0.8" fill="none"/>
<text transform="translate(782.8 990.4) rotate(-45)" font-size="8.6" text-anchor="end" fill="#1a1a1a" >2019-03</text>
<path d="M801.2 983.3 L801.2 980.9" stroke="#666" stroke-width="0.8" fill="none"/>
<text transform="translate(804.0 990.4) rotate(-45)" font-size="8.6" text-anchor="end" fill="#1a1a1a" >2020-03</text>
<path d="M822.4 983.3 L822.4 980.9" stroke="#666" stroke-width="0.8" fill="none"/>
<text transform="translate(825.2 990.4) rotate(-45)" font-size="8.6" text-anchor="end" fill="#1a1a1a" >2021-03</text>
<path d="M843.6 983.3 L843.6 980.9" stroke="#666" stroke-width="0.8" fill="none"/>
<text transform="translate(846.4 990.4) rotate(-45)" font-size="8.6" text-anchor="end" fill="#1a1a1a" >2022-03</text>
<path d="M864.8 983.3 L864.8 980.9" stroke="#666" stroke-width="0.8" fill="none"/>
<text transform="translate(867.6 990.4) rotate(-45)" font-size="8.6" text-anchor="end" fill="#1a1a1a" >2023-03</text>
<path d="M886.0 983.3 L886.0 980.9" stroke="#666" stroke-width="0.8" fill="none"/>
<text transform="translate(888.8 990.4) rotate(-45)" font-size="8.6" text-anchor="end" fill="#1a1a1a" >2024-03</text>
<path d="M668.6 1023.9 L685.0 1023.9" stroke="#0f73c5" stroke-width="1.1" fill="none"/>
<text x="687.5" y="1026.4" font-size="8" fill="#1a1a1a" textLength="127">PTA<tspan style="font-family:'Liberation Sans',sans-serif" font-size="7.2">产业链负荷率:江浙织机（%）</tspan></text>
<path d="M571.0 1047.4 L913.5 1047.4" stroke="#333" stroke-width="1" fill="none"/></svg><div class="csrc">数据来源：<span class="w">Wind</span>、开源证券研究所</div><div class="cdate">2024-03-17</div><div class="cline"></div><div class="ctag">其他 | 能源矿产</div><div class="clink">查看原文</div></div>
<div class="card" style="left:983.33px;top:741.5px"><div class="ctitle">本周氨纶库存小幅上升</div><svg class="chart" width="438.67" height="411.67" viewBox="983.33 741.5 438.67 411.67"><path d="M1070.5 972.3 L1070.5 926.1 L1071.5 908.8 L1072.4 895.3 L1073.4 880.4 L1074.1 879.9 L1074.8 886.6 L1075.8 901.1 L1076.8 908.8 L1077.7 913.6 L1079.2 916.0 L1080.1 915.5 L1081.1 910.7 L1082.1 903.0 L1083.0 897.7 L1083.8 893.4 L1084.9 900.1 L1085.9 907.8 L1086.9 913.6 L1088.0 920.3 L1089.3 921.3 L1090.4 922.2 L1091.2 925.1 L1092.1 931.9 L1092.9 937.6 L1093.9 938.6 L1094.6 933.8 L1095.5 929.4 L1096.8 928.5 L1097.7 930.9 L1098.4 929.0 L1099.1 924.6 L1099.6 935.7 L1100.8 936.2 L1102.0 938.6 L1102.9 935.7 L1104.2 933.3 L1105.1 935.7 L1106.4 939.1 L1107.3 934.3 L1108.5 931.9 L1109.7 927.0 L1110.9 928.5 L1112.2 926.1 L1113.5 923.2 L1114.7 923.7 L1116.2 924.6 L1117.6 925.6 L1119.1 925.1 L1120.5 926.1 L1122.0 925.9 L1123.4 926.3 L1124.4 929.4 L1125.8 929.2 L1127.2 929.0 L1128.5 928.8 L1129.2 922.2 L1129.8 914.5 L1131.1 907.8 L1132.5 900.1 L1133.7 899.6 L1134.7 899.6 L1135.4 908.8 L1135.9 912.1 L1136.9 912.6 L1138.1 914.0 L1138.5 903.0 L1139.1 891.9 L1140.2 890.5 L1140.7 883.7 L1141.7 868.8 L1143.1 867.9 L1144.6 867.2 L1145.8 866.4 L1146.5 865.4 L1147.0 869.3 L1147.7 876.0 L1148.9 880.4 L1149.8 883.7 L1150.8 888.5 L1151.8 893.4 L1152.9 895.3 L1153.9 900.1 L1155.1 905.9 L1156.1 909.7 L1157.1 914.5 L1158.0 919.3 L1159.0 923.2 L1160.2 926.1 L1161.2 932.8 L1162.3 935.7 L1163.3 938.6 L1164.7 938.6 L1166.0 939.1 L1167.2 939.6 L1168.3 939.6 L1169.6 940.0 L1170.5 942.0 L1172.0 944.8 L1173.4 946.3 L1174.8 948.2 L1176.3 950.1 L1177.5 950.1 L1178.2 941.5 L1178.9 934.7 L1179.8 931.4 L1180.6 937.6 L1181.6 940.0 L1182.7 940.7 L1183.7 941.5 L1184.7 938.1 L1185.6 931.9 L1186.6 925.1 L1187.3 916.5 L1188.3 904.9 L1189.3 895.3 L1190.0 886.6 L1191.0 879.4 L1191.7 878.4 L1192.3 881.8 L1193.3 877.5 L1194.3 876.0 L1195.2 874.6 L1196.2 876.5 L1197.2 878.9 L1198.4 878.4 L1199.4 877.0 L1200.3 877.5 L1201.6 878.9 L1202.5 882.8 L1203.7 887.1 L1205.1 887.1 L1206.6 886.6 L1207.5 883.3 L1209.0 878.0 L1210.4 873.1 L1211.8 869.1 L1212.8 869.8 L1213.8 875.1 L1215.0 878.4 L1216.2 878.0 L1217.1 877.2 L1217.9 878.0 L1218.9 886.6 L1219.8 895.3 L1220.8 902.0 L1221.9 904.9 L1222.7 897.2 L1223.4 895.8 L1224.1 898.7 L1225.0 899.1 L1226.0 891.4 L1226.9 888.5 L1227.7 893.4 L1228.7 903.0 L1229.8 910.7 L1231.1 910.7 L1232.3 909.7 L1234.0 909.2 L1235.4 906.8 L1236.8 903.9 L1238.3 904.1 L1239.2 903.5 L1240.2 900.1 L1241.7 896.7 L1243.1 893.4 L1244.2 893.2 L1245.2 895.8 L1246.2 901.1 L1247.1 910.7 L1248.1 919.3 L1249.3 923.2 L1250.6 927.0 L1251.6 929.9 L1252.7 931.1 L1254.2 931.1 L1255.1 929.0 L1256.1 927.0 L1257.0 926.6 L1258.0 922.2 L1259.0 916.5 L1260.2 906.8 L1261.4 897.2 L1262.5 890.5 L1263.8 879.9 L1264.7 879.7 L1265.7 881.0 L1266.9 879.9 L1267.9 878.9 L1268.9 879.1 L1269.5 885.7 L1270.5 892.4 L1271.5 895.3 L1272.4 890.5 L1273.4 891.4 L1274.1 898.2 L1275.0 903.5 L1276.0 900.1 L1277.2 898.7 L1278.7 893.4 L1280.1 888.1 L1280.8 890.5 L1281.6 896.2 L1282.5 901.1 L1283.5 904.9 L1284.6 911.2 L1285.9 910.2 L1286.8 908.8 L1287.8 903.0 L1289.1 904.9 L1290.0 904.4 L1291.0 901.1 L1292.1 899.1 L1293.6 897.7 L1294.5 897.0 L1295.8 898.2 L1296.7 903.0 L1297.9 905.9 L1299.3 908.8 L1300.3 914.5 L1301.6 916.5 L1302.2 922.2 L1302.9 927.0 L1303.9 925.1 L1304.8 921.7 L1306.1 921.1 L1307.0 922.2 L1307.7 921.3 L1309.0 923.2 L1310.2 922.4 L1311.4 922.2 L1312.3 924.6 L1313.1 920.3 L1313.9 918.4 L1314.7 922.2 L1316.0 923.2 L1317.1 926.1 L1318.6 929.9 L1319.5 935.7 L1320.2 939.1 L1321.5 940.5 L1322.9 942.0 L1324.3 942.9 L1325.8 942.4 L1327.2 941.7 L1328.5 941.0 L1329.8 939.1 L1331.1 937.6 L1332.5 936.7 L1334.0 935.9 L1335.4 935.2 L1336.8 933.3 L1338.1 934.7 L1339.3 936.2 L1340.4 937.1 L1341.7 940.5 L1342.9 944.8 L1344.1 944.4 L1345.0 944.2 L1345.6 930.4 L1346.5 930.9 L1347.4 932.3 L1348.1 931.9 L1348.9 929.9 L1348.9 972.3 Z" fill="#5b9bd5" />
<path d="M1070.3 852.2 L1070.3 972.3" stroke="#ccc" stroke-width="0.8" fill="none"/>
<path d="M1069.8 972.3 L1349.0 972.3" stroke="#333" stroke-width="1" fill="none"/>
<path d="M1070.3 852.2 L1072.5 852.2" stroke="#ccc" stroke-width="0.7" fill="none"/>
<text x="1063.2" y="854.6" font-size="7.0" text-anchor="end" fill="#1a1a1a" >35</text>
<path d="M1070.3 869.4 L1072.5 869.4" stroke="#ccc" stroke-width="0.7" fill="none"/>
<text x="1063.2" y="871.8" font-size="7.0" text-anchor="end" fill="#1a1a1a" >30</text>
<path d="M1070.3 886.5 L1072.5 886.5" stroke="#ccc" stroke-width="0.7" fill="none"/>
<text x="1063.2" y="888.9" font-size="7.0" text-anchor="end" fill="#1a1a1a" >25</text>
<path d="M1070.3 903.7 L1072.5 903.7" stroke="#ccc" stroke-width="0.7" fill="none"/>
<text x="1063.2" y="906.1" font-size="7.0" text-anchor="end" fill="#1a1a1a" >20</text>
<path d="M1070.3 920.8 L1072.5 920.8" stroke="#ccc" stroke-width="0.7" fill="none"/>
<text x="1063.2" y="923.2" font-size="7.0" text-anchor="end" fill="#1a1a1a" >15</text>
<path d="M1070.3 938.0 L1072.5 938.0" stroke="#ccc" stroke-width="0.7" fill="none"/>
<text x="1063.2" y="940.4" font-size="7.0" text-anchor="end" fill="#1a1a1a" >10</text>
<path d="M1070.3 955.1 L1072.5 955.1" stroke="#ccc" stroke-width="0.7" fill="none"/>
<text x="1063.2" y="957.5" font-size="7.0" text-anchor="end" fill="#1a1a1a" >5</text>
<path d="M1070.3 972.3 L1072.5 972.3" stroke="#ccc" stroke-width="0.7" fill="none"/>
<text x="1063.2" y="974.7" font-size="7.0" text-anchor="end" fill="#1a1a1a" >0</text>
<path d="M1070.3 972.3 L1070.3 970.1" stroke="#33507a" stroke-width="0.8" fill="none"/>
<text transform="translate(1072.8 978.4) scale(1 0.94) rotate(-45)" font-size="6.9" text-anchor="end" fill="#1a1a1a" >2019-03</text>
<path d="M1084.2 972.3 L1084.2 970.1" stroke="#33507a" stroke-width="0.8" fill="none"/>
<text transform="translate(1086.7 978.4) scale(1 0.94) rotate(-45)" font-size="6.9" text-anchor="end" fill="#1a1a1a" >2019-06</text>
<path d="M1098.0 972.3 L1098.0 970.1" stroke="#33507a" stroke-width="0.8" fill="none"/>
<text transform="translate(1100.5 978.4) scale(1 0.94) rotate(-45)" font-size="6.9" text-anchor="end" fill="#1a1a1a" >2019-09</text>
<path d="M1111.9 972.3 L1111.9 970.1" stroke="#33507a" stroke-width="0.8" fill="none"/>
<text transform="translate(1114.4 978.4) scale(1 0.94) rotate(-45)" font-size="6.9" text-anchor="end" fill="#1a1a1a" >2019-12</text>
<path d="M1125.7 972.3 L1125.7 970.1" stroke="#33507a" stroke-width="0.8" fill="none"/>
<text transform="translate(1128.2 978.4) scale(1 0.94) rotate(-45)" font-size="6.9" text-anchor="end" fill="#1a1a1a" >2020-03</text>
<path d="M1139.6 972.3 L1139.6 970.1" stroke="#33507a" stroke-width="0.8" fill="none"/>
<text transform="translate(1142.1 978.4) scale(1 0.94) rotate(-45)" font-size="6.9" text-anchor="end" fill="#1a1a1a" >2020-06</text>
<path d="M1153.4 972.3 L1153.4 970.1" stroke="#33507a" stroke-width="0.8" fill="none"/>
<text transform="translate(1155.9 978.4) scale(1 0.94) rotate(-45)" font-size="6.9" text-anchor="end" fill="#1a1a1a" >2020-09</text>
<path d="M1167.3 972.3 L1167.3 970.1" stroke="#33507a" stroke-width="0.8" fill="none"/>
<text transform="translate(1169.8 978.4) scale(1 0.94) rotate(-45)" font-size="6.9" text-anchor="end" fill="#1a1a1a" >2020-12</text>
<path d="M1181.1 972.3 L1181.1 970.1" stroke="#33507a" stroke-width="0.8" fill="none"/>
<text transform="translate(1183.6 978.4) scale(1 0.94) rotate(-45)" font-size="6.9" text-anchor="end" fill="#1a1a1a" >2021-03</text>
<path d="M1195.0 972.3 L1195.0 970.1" stroke="#33507a" stroke-width="0.8" fill="none"/>
<text transform="translate(1197.5 978.4) scale(1 0.94) rotate(-45)" font-size="6.9" text-anchor="end" fill="#1a1a1a" >2021-06</text>
<path d="M1208.8 972.3 L1208.8 970.1" stroke="#33507a" stroke-width="0.8" fill="none"/>
<text transform="translate(1211.3 978.4) scale(1 0.94) rotate(-45)" font-size="6.9" text-anchor="end" fill="#1a1a1a" >2021-09</text>
<path d="M1222.7 972.3 L1222.7 970.1" stroke="#33507a" stroke-width="0.8" fill="none"/>
<text transform="translate(1225.2 978.4) scale(1 0.94) rotate(-45)" font-size="6.9" text-anchor="end" fill="#1a1a1a" >2021-12</text>
<path d="M1236.6 972.3 L1236.6 970.1" stroke="#33507a" stroke-width="0.8" fill="none"/>
<text transform="translate(1239.1 978.4) scale(1 0.94) rotate(-45)" font-size="6.9" text-anchor="end" fill="#1a1a1a" >2022-03</text>
<path d="M1250.4 972.3 L1250.4 970.1" stroke="#33507a" stroke-width="0.8" fill="none"/>
<text transform="translate(1252.9 978.4) scale(1 0.94) rotate(-45)" font-size="6.9" text-anchor="end" fill="#1a1a1a" >2022-06</text>
<path d="M1264.3 972.3 L1264.3 970.1" stroke="#33507a" stroke-width="0.8" fill="none"/>
<text transform="translate(1266.8 978.4) scale(1 0.94) rotate(-45)" font-size="6.9" text-anchor="end" fill="#1a1a1a" >2022-09</text>
<path d="M1278.1 972.3 L1278.1 970.1" stroke="#33507a" stroke-width="0.8" fill="none"/>
<text transform="translate(1280.6 978.4) scale(1 0.94) rotate(-45)" font-size="6.9" text-anchor="end" fill="#1a1a1a" >2022-12</text>
<path d="M1292.0 972.3 L1292.0 970.1" stroke="#33507a" stroke-width="0.8" fill="none"/>
<text transform="translate(1294.5 978.4) scale(1 0.94) rotate(-45)" font-size="6.9" text-anchor="end" fill="#1a1a1a" >2023-03</text>
<path d="M1305.8 972.3 L1305.8 970.1" stroke="#33507a" stroke-width="0.8" fill="none"/>
<text transform="translate(1308.3 978.4) scale(1 0.94) rotate(-45)" font-size="6.9" text-anchor="end" fill="#1a1a1a" >2023-06</text>
<path d="M1319.7 972.3 L1319.7 970.1" stroke="#33507a" stroke-width="0.8" fill="none"/>
<text transform="translate(1322.2 978.4) scale(1 0.94) rotate(-45)" font-size="6.9" text-anchor="end" fill="#1a1a1a" >2023-09</text>
<path d="M1333.5 972.3 L1333.5 970.1" stroke="#33507a" stroke-width="0.8" fill="none"/>
<text transform="translate(1336.0 978.4) scale(1 0.94) rotate(-45)" font-size="6.9" text-anchor="end" fill="#1a1a1a" >2023-12</text>
<path d="M1347.4 972.3 L1347.4 970.1" stroke="#33507a" stroke-width="0.8" fill="none"/>
<text transform="translate(1349.9 978.4) scale(1 0.94) rotate(-45)" font-size="6.9" text-anchor="end" fill="#1a1a1a" >2024-03</text>
<rect x="1141.7" y="1006.6" width="4.2" height="4.2" fill="#5b9bd5"/>
<text x="1149.0" y="1011.2" font-size="7.4" fill="#333" text-anchor="start" style="font-family:'Liberation Sans',sans-serif" textLength="116">粘胶短纤周度库存量（万吨）</text>
<path d="M1033.4 1026.3 L1375.0 1026.3" stroke="#666" stroke-width="1.1" fill="none"/></svg><div class="csrc">数据来源：<span class="w">Wind</span>、百川盈孚、开源证券研究所</div><div class="cdate">2024-03-17</div><div class="cline"></div><div class="ctag">其他 | 能源矿产</div><div class="clink">查看原文</div></div>
<div class="card" style="left:60px;top:1176px"><div class="ctitle">本周粘胶短纤库存小幅增长</div><svg class="chart" width="438.67" height="411.67" viewBox="60 1176 438.67 411.67"><path d="M133.8 1412.2 L133.8 1361.2 L134.9 1342.1 L136.0 1327.3 L137.0 1310.8 L137.8 1310.3 L138.6 1317.7 L139.7 1333.7 L140.7 1342.1 L141.8 1347.5 L143.4 1350.1 L144.4 1349.6 L145.5 1344.3 L146.6 1335.8 L147.6 1329.9 L148.5 1325.2 L149.8 1332.6 L150.8 1341.1 L151.9 1347.5 L153.1 1354.9 L154.5 1355.9 L155.8 1357.0 L156.6 1360.2 L157.7 1367.6 L158.6 1374.0 L159.6 1375.0 L160.4 1369.7 L161.4 1365.0 L162.8 1363.9 L163.9 1366.6 L164.6 1364.4 L165.3 1359.7 L166.0 1371.9 L167.3 1372.4 L168.5 1375.0 L169.6 1371.9 L171.0 1369.2 L172.0 1371.9 L173.4 1375.6 L174.5 1370.3 L175.7 1367.6 L177.0 1362.3 L178.4 1363.9 L179.8 1361.2 L181.3 1358.1 L182.6 1358.6 L184.2 1359.7 L185.8 1360.7 L187.4 1360.2 L189.0 1361.2 L190.6 1361.0 L192.2 1361.5 L193.3 1365.0 L194.8 1364.6 L196.4 1364.4 L197.8 1364.2 L198.6 1357.0 L199.3 1348.5 L200.7 1341.1 L202.3 1332.6 L203.5 1332.1 L204.6 1332.1 L205.5 1342.1 L206.0 1345.9 L207.0 1346.4 L208.4 1348.0 L208.8 1335.8 L209.5 1323.6 L210.8 1322.0 L211.3 1314.6 L212.4 1298.1 L213.9 1297.1 L215.5 1296.3 L216.9 1295.5 L217.7 1294.4 L218.2 1298.6 L219.0 1306.1 L220.3 1310.8 L221.4 1314.6 L222.4 1319.9 L223.5 1325.2 L224.8 1327.3 L225.8 1332.6 L227.2 1339.0 L228.3 1343.2 L229.3 1348.5 L230.4 1353.8 L231.4 1358.1 L232.8 1361.2 L233.9 1368.7 L235.2 1371.9 L236.2 1375.0 L237.8 1375.0 L239.2 1375.6 L240.5 1376.1 L241.7 1376.1 L243.1 1376.6 L244.2 1378.8 L245.8 1381.9 L247.4 1383.5 L249.0 1385.6 L250.5 1387.8 L251.9 1387.8 L252.7 1378.2 L253.4 1370.8 L254.5 1367.1 L255.3 1374.0 L256.4 1376.6 L257.7 1377.4 L258.7 1378.2 L259.8 1374.5 L260.8 1367.6 L261.9 1360.2 L262.7 1350.6 L263.8 1337.9 L264.9 1327.3 L265.7 1317.7 L266.8 1309.8 L267.5 1308.7 L268.3 1312.4 L269.3 1307.7 L270.4 1306.1 L271.4 1304.5 L272.5 1306.6 L273.6 1309.3 L274.9 1308.7 L276.0 1307.1 L277.1 1307.7 L278.5 1309.3 L279.5 1313.5 L280.8 1318.3 L282.4 1318.3 L284.0 1317.7 L285.0 1314.0 L286.6 1308.2 L288.2 1302.9 L289.8 1298.4 L290.8 1299.2 L291.9 1305.0 L293.3 1308.7 L294.5 1308.2 L295.6 1307.3 L296.5 1308.2 L297.5 1317.7 L298.6 1327.3 L299.6 1334.7 L300.9 1337.9 L301.8 1329.4 L302.5 1327.8 L303.2 1331.0 L304.3 1331.5 L305.4 1323.1 L306.4 1319.9 L307.3 1325.2 L308.3 1335.8 L309.6 1344.3 L311.0 1344.3 L312.4 1343.2 L314.2 1342.7 L315.8 1340.0 L317.4 1336.8 L319.0 1337.1 L320.0 1336.3 L321.1 1332.6 L322.7 1328.9 L324.3 1325.2 L325.5 1325.0 L326.6 1327.8 L327.7 1333.7 L328.7 1344.3 L329.8 1353.8 L331.2 1358.1 L332.5 1362.3 L333.6 1365.5 L334.9 1366.8 L336.5 1366.8 L337.5 1364.4 L338.6 1362.3 L339.6 1361.8 L340.7 1357.0 L341.8 1350.6 L343.1 1340.0 L344.4 1329.4 L345.7 1322.0 L347.1 1310.3 L348.1 1310.1 L349.2 1311.6 L350.6 1310.3 L351.6 1309.3 L352.7 1309.5 L353.4 1316.7 L354.5 1324.1 L355.6 1327.3 L356.6 1322.0 L357.7 1323.1 L358.4 1330.5 L359.5 1336.3 L360.5 1332.6 L361.9 1331.0 L363.5 1325.2 L365.1 1319.3 L365.8 1322.0 L366.7 1328.4 L367.8 1333.7 L368.8 1337.9 L370.1 1344.8 L371.5 1343.7 L372.5 1342.1 L373.6 1335.8 L375.0 1337.9 L376.0 1337.4 L377.1 1333.7 L378.4 1331.5 L380.0 1329.9 L381.0 1329.2 L382.4 1330.5 L383.5 1335.8 L384.7 1339.0 L386.3 1342.1 L387.4 1348.5 L388.8 1350.6 L389.5 1357.0 L390.3 1362.3 L391.3 1360.2 L392.4 1356.5 L393.8 1355.7 L394.8 1357.0 L395.6 1355.9 L396.9 1358.1 L398.3 1357.2 L399.6 1357.0 L400.6 1359.7 L401.5 1354.9 L402.3 1352.8 L403.3 1357.0 L404.7 1358.1 L406.0 1361.2 L407.5 1365.5 L408.6 1371.9 L409.4 1375.6 L410.7 1377.2 L412.3 1378.8 L413.9 1379.8 L415.5 1379.3 L417.1 1378.4 L418.5 1377.7 L420.0 1375.6 L421.3 1374.0 L422.9 1372.9 L424.5 1372.1 L426.1 1371.3 L427.7 1369.2 L429.1 1370.8 L430.4 1372.4 L431.6 1373.4 L433.0 1377.2 L434.4 1381.9 L435.7 1381.4 L436.7 1381.2 L437.4 1366.0 L438.3 1366.6 L439.4 1368.1 L440.1 1367.6 L441.0 1365.5 L441.0 1412.2 Z" fill="#5b9bd5" />
<path d="M133.6 1279.8 L133.6 1412.7" stroke="#333" stroke-width="1" fill="none"/>
<path d="M133.1 1412.2 L441.3 1412.2" stroke="#333" stroke-width="1" fill="none"/>
<path d="M133.6 1279.8 L136.2 1279.8" stroke="#444" stroke-width="0.8" fill="none"/>
<text x="125.6" y="1282.4" font-size="7.6" text-anchor="end" fill="#1a1a1a" >35</text>
<path d="M133.6 1298.7 L136.2 1298.7" stroke="#444" stroke-width="0.8" fill="none"/>
<text x="125.6" y="1301.3" font-size="7.6" text-anchor="end" fill="#1a1a1a" >30</text>
<path d="M133.6 1317.6 L136.2 1317.6" stroke="#444" stroke-width="0.8" fill="none"/>
<text x="125.6" y="1320.2" font-size="7.6" text-anchor="end" fill="#1a1a1a" >25</text>
<path d="M133.6 1336.5 L136.2 1336.5" stroke="#444" stroke-width="0.8" fill="none"/>
<text x="125.6" y="1339.1" font-size="7.6" text-anchor="end" fill="#1a1a1a" >20</text>
<path d="M133.6 1355.5 L136.2 1355.5" stroke="#444" stroke-width="0.8" fill="none"/>
<text x="125.6" y="1358.1" font-size="7.6" text-anchor="end" fill="#1a1a1a" >15</text>
<path d="M133.6 1374.4 L136.2 1374.4" stroke="#444" stroke-width="0.8" fill="none"/>
<text x="125.6" y="1377.0" font-size="7.6" text-anchor="end" fill="#1a1a1a" >10</text>
<path d="M133.6 1393.3 L136.2 1393.3" stroke="#444" stroke-width="0.8" fill="none"/>
<text x="125.6" y="1395.9" font-size="7.6" text-anchor="end" fill="#1a1a1a" >5</text>
<path d="M133.6 1412.2 L136.2 1412.2" stroke="#444" stroke-width="0.8" fill="none"/>
<text x="125.6" y="1414.8" font-size="7.6" text-anchor="end" fill="#1a1a1a" >0</text>
<path d="M133.6 1412.2 L133.6 1409.8" stroke="#33507a" stroke-width="0.8" fill="none"/>
<text transform="translate(136.4 1419.0) scale(1 0.9) rotate(-45)" font-size="7.7" text-anchor="end" fill="#1a1a1a" >2019-03</text>
<path d="M148.9 1412.2 L148.9 1409.8" stroke="#33507a" stroke-width="0.8" fill="none"/>
<text transform="translate(151.7 1419.0) scale(1 0.9) rotate(-45)" font-size="7.7" text-anchor="end" fill="#1a1a1a" >2019-06</text>
<path d="M164.2 1412.2 L164.2 1409.8" stroke="#33507a" stroke-width="0.8" fill="none"/>
<text transform="translate(167.0 1419.0) scale(1 0.9) rotate(-45)" font-size="7.7" text-anchor="end" fill="#1a1a1a" >2019-09</text>
<path d="M179.5 1412.2 L179.5 1409.8" stroke="#33507a" stroke-width="0.8" fill="none"/>
<text transform="translate(182.3 1419.0) scale(1 0.9) rotate(-45)" font-size="7.7" text-anchor="end" fill="#1a1a1a" >2019-12</text>
<path d="M194.8 1412.2 L194.8 1409.8" stroke="#33507a" stroke-width="0.8" fill="none"/>
<text transform="translate(197.6 1419.0) scale(1 0.9) rotate(-45)" font-size="7.7" text-anchor="end" fill="#1a1a1a" >2020-03</text>
<path d="M210.0 1412.2 L210.0 1409.8" stroke="#33507a" stroke-width="0.8" fill="none"/>
<text transform="translate(212.8 1419.0) scale(1 0.9) rotate(-45)" font-size="7.7" text-anchor="end" fill="#1a1a1a" >2020-06</text>
<path d="M225.3 1412.2 L225.3 1409.8" stroke="#33507a" stroke-width="0.8" fill="none"/>
<text transform="translate(228.1 1419.0) scale(1 0.9) rotate(-45)" font-size="7.7" text-anchor="end" fill="#1a1a1a" >2020-09</text>
<path d="M240.6 1412.2 L240.6 1409.8" stroke="#33507a" stroke-width="0.8" fill="none"/>
<text transform="translate(243.4 1419.0) scale(1 0.9) rotate(-45)" font-size="7.7" text-anchor="end" fill="#1a1a1a" >2020-12</text>
<path d="M255.9 1412.2 L255.9 1409.8" stroke="#33507a" stroke-width="0.8" fill="none"/>
<text transform="translate(258.7 1419.0) scale(1 0.9) rotate(-45)" font-size="7.7" text-anchor="end" fill="#1a1a1a" >2021-03</text>
<path d="M271.2 1412.2 L271.2 1409.8" stroke="#33507a" stroke-width="0.8" fill="none"/>
<text transform="translate(274.0 1419.0) scale(1 0.9) rotate(-45)" font-size="7.7" text-anchor="end" fill="#1a1a1a" >2021-06</text>
<path d="M286.5 1412.2 L286.5 1409.8" stroke="#33507a" stroke-width="0.8" fill="none"/>
<text transform="translate(289.3 1419.0) scale(1 0.9) rotate(-45)" font-size="7.7" text-anchor="end" fill="#1a1a1a" >2021-09</text>
<path d="M301.8 1412.2 L301.8 1409.8" stroke="#33507a" stroke-width="0.8" fill="none"/>
<text transform="translate(304.6 1419.0) scale(1 0.9) rotate(-45)" font-size="7.7" text-anchor="end" fill="#1a1a1a" >2021-12</text>
<path d="M317.1 1412.2 L317.1 1409.8" stroke="#33507a" stroke-width="0.8" fill="none"/>
<text transform="translate(319.9 1419.0) scale(1 0.9) rotate(-45)" font-size="7.7" text-anchor="end" fill="#1a1a1a" >2022-03</text>
<path d="M332.4 1412.2 L332.4 1409.8" stroke="#33507a" stroke-width="0.8" fill="none"/>
<text transform="translate(335.2 1419.0) scale(1 0.9) rotate(-45)" font-size="7.7" text-anchor="end" fill="#1a1a1a" >2022-06</text>
<path d="M347.7 1412.2 L347.7 1409.8" stroke="#33507a" stroke-width="0.8" fill="none"/>
<text transform="translate(350.5 1419.0) scale(1 0.9) rotate(-45)" font-size="7.7" text-anchor="end" fill="#1a1a1a" >2022-09</text>
<path d="M362.9 1412.2 L362.9 1409.8" stroke="#33507a" stroke-width="0.8" fill="none"/>
<text transform="translate(365.7 1419.0) scale(1 0.9) rotate(-45)" font-size="7.7" text-anchor="end" fill="#1a1a1a" >2022-12</text>
<path d="M378.2 1412.2 L378.2 1409.8" stroke="#33507a" stroke-width="0.8" fill="none"/>
<text transform="translate(381.0 1419.0) scale(1 0.9) rotate(-45)" font-size="7.7" text-anchor="end" fill="#1a1a1a" >2023-03</text>
<path d="M393.5 1412.2 L393.5 1409.8" stroke="#33507a" stroke-width="0.8" fill="none"/>
<text transform="translate(396.3 1419.0) scale(1 0.9) rotate(-45)" font-size="7.7" text-anchor="end" fill="#1a1a1a" >2023-06</text>
<path d="M408.8 1412.2 L408.8 1409.8" stroke="#33507a" stroke-width="0.8" fill="none"/>
<text transform="translate(411.6 1419.0) scale(1 0.9) rotate(-45)" font-size="7.7" text-anchor="end" fill="#1a1a1a" >2023-09</text>
<path d="M424.1 1412.2 L424.1 1409.8" stroke="#33507a" stroke-width="0.8" fill="none"/>
<text transform="translate(426.9 1419.0) scale(1 0.9) rotate(-45)" font-size="7.7" text-anchor="end" fill="#1a1a1a" >2023-12</text>
<path d="M439.4 1412.2 L439.4 1409.8" stroke="#33507a" stroke-width="0.8" fill="none"/>
<text transform="translate(442.2 1419.0) scale(1 0.9) rotate(-45)" font-size="7.7" text-anchor="end" fill="#1a1a1a" >2024-03</text>
<rect x="212.6" y="1450" width="4.4" height="4.4" fill="#5b9bd5"/>
<text x="220.0" y="1455.0" font-size="8.0" fill="#333" text-anchor="start" style="font-family:'Liberation Sans',sans-serif" textLength="129">粘胶短纤周度库存量（万吨）</text>
<path d="M109.6 1470.5 L452.0 1470.5" stroke="#333" stroke-width="1" fill="none"/></svg><div class="csrc">数据来源：百川盈孚、开源证券研究所</div><div class="cdate">2024-03-17</div><div class="cline"></div><div class="ctag">其他 | 能源矿产</div><div class="clink">查看原文</div></div>
<div class="card" style="left:521.67px;top:1176px"><div class="ctitle">本周粘胶短纤价差维持稳定</div><svg class="chart" width="438.67" height="411.67" viewBox="521.67 1176 438.67 411.67"><path d="M602.5 1410.3 L602.5 1355.5 L603.5 1360.1 L604.5 1367.2 L605.2 1367.5 L606.0 1365.1 L606.7 1363.0 L607.4 1362.2 L608.2 1359.2 L608.9 1358.9 L609.7 1360.2 L610.4 1362.0 L611.2 1363.1 L611.9 1363.4 L612.7 1366.3 L613.4 1366.1 L614.4 1367.0 L615.4 1367.0 L616.1 1368.5 L616.9 1369.8 L617.6 1371.9 L618.4 1371.8 L619.1 1370.9 L619.9 1371.0 L620.9 1364.2 L622.1 1359.1 L623.0 1359.9 L623.9 1358.8 L624.6 1358.5 L625.4 1356.7 L626.1 1358.0 L626.8 1358.1 L628.0 1361.4 L629.3 1365.0 L630.1 1366.2 L630.8 1367.3 L631.6 1368.1 L632.3 1371.0 L633.3 1369.5 L634.3 1368.4 L635.1 1369.5 L635.8 1368.2 L636.5 1367.1 L637.3 1365.9 L638.6 1361.6 L639.8 1364.7 L640.5 1366.9 L641.3 1366.2 L642.3 1371.6 L643.3 1369.4 L644.3 1370.0 L645.0 1371.0 L645.8 1372.5 L646.5 1373.5 L647.2 1374.0 L648.2 1373.1 L649.2 1372.7 L650.2 1373.3 L651.2 1373.0 L652.2 1372.1 L653.2 1373.9 L654.2 1372.5 L655.2 1372.5 L656.0 1371.2 L656.7 1371.0 L657.4 1370.9 L658.2 1372.2 L658.9 1373.7 L659.7 1375.8 L660.4 1376.7 L661.2 1378.8 L661.9 1381.9 L662.7 1383.2 L663.7 1383.2 L664.7 1382.2 L665.7 1383.3 L666.6 1384.0 L667.4 1383.1 L668.1 1385.1 L668.9 1382.3 L669.6 1379.9 L670.6 1381.8 L671.6 1381.1 L672.6 1381.0 L673.6 1381.8 L674.6 1382.4 L675.6 1383.8 L676.6 1384.3 L677.6 1384.8 L678.3 1386.7 L679.1 1387.5 L680.1 1387.3 L681.1 1387.5 L681.8 1386.3 L682.6 1386.0 L683.6 1382.7 L684.6 1383.4 L685.6 1382.5 L686.3 1383.1 L687.0 1383.8 L687.8 1381.9 L688.5 1381.9 L689.5 1381.4 L690.5 1381.2 L691.3 1366.2 L692.3 1362.6 L693.2 1360.3 L694.0 1360.1 L695.0 1357.7 L696.0 1359.4 L696.8 1358.1 L697.7 1359.8 L698.5 1358.1 L699.2 1361.1 L700.0 1361.7 L700.7 1362.2 L701.5 1361.3 L702.2 1357.9 L703.0 1357.2 L703.7 1351.0 L704.5 1345.2 L705.2 1341.4 L706.0 1336.2 L706.7 1330.7 L707.4 1324.5 L708.2 1326.4 L708.9 1329.4 L709.7 1329.1 L710.4 1328.4 L711.4 1320.2 L712.6 1311.8 L713.9 1309.8 L715.2 1312.3 L716.2 1332.0 L717.4 1336.4 L718.1 1338.8 L718.9 1341.5 L720.2 1347.0 L721.6 1348.3 L722.5 1351.1 L723.4 1352.6 L724.1 1355.4 L724.9 1357.0 L725.9 1371.7 L726.6 1372.9 L727.3 1373.1 L728.1 1376.3 L728.8 1377.1 L729.8 1376.3 L730.8 1376.5 L731.5 1359.4 L732.8 1355.5 L733.6 1356.7 L734.3 1357.7 L735.3 1358.7 L736.3 1358.5 L737.3 1359.6 L738.3 1360.0 L739.3 1360.6 L740.3 1362.0 L741.0 1363.2 L742.0 1362.0 L743.0 1362.6 L743.8 1392.0 L745.0 1397.5 L746.0 1381.7 L746.5 1369.0 L747.2 1365.9 L748.0 1362.1 L748.7 1356.4 L749.5 1351.2 L750.2 1346.8 L751.0 1341.7 L751.9 1340.5 L752.7 1341.3 L753.4 1343.9 L753.9 1355.1 L754.7 1356.4 L755.4 1356.7 L756.7 1358.6 L757.4 1364.3 L758.2 1363.8 L758.9 1362.5 L759.4 1357.1 L760.4 1354.6 L761.4 1357.3 L762.1 1356.6 L762.9 1355.8 L763.6 1357.4 L764.4 1359.1 L765.4 1365.1 L766.2 1366.8 L767.1 1366.5 L768.1 1371.1 L769.4 1367.6 L770.1 1365.1 L770.9 1363.9 L771.8 1363.7 L772.8 1365.8 L773.8 1363.6 L774.8 1362.6 L775.8 1362.8 L776.8 1361.1 L777.8 1361.6 L778.8 1363.9 L779.8 1361.9 L780.8 1360.8 L781.5 1364.1 L782.3 1365.7 L783.0 1366.1 L783.8 1365.5 L784.8 1367.8 L785.8 1368.3 L786.5 1369.8 L787.3 1369.7 L788.0 1371.7 L788.8 1372.7 L789.8 1377.8 L790.5 1381.3 L791.2 1384.6 L792.0 1386.6 L792.7 1387.9 L793.5 1387.8 L794.2 1386.6 L795.2 1385.2 L796.2 1381.4 L797.2 1380.6 L798.2 1381.9 L799.2 1383.8 L800.2 1384.9 L801.0 1384.4 L801.7 1382.1 L802.9 1391.2 L804.2 1393.2 L804.9 1390.0 L805.7 1386.6 L806.7 1381.9 L807.4 1384.4 L808.2 1384.8 L808.9 1384.8 L809.7 1384.7 L810.4 1383.7 L811.1 1381.7 L811.9 1380.0 L812.6 1378.2 L813.6 1376.6 L814.6 1375.6 L815.6 1374.7 L816.6 1373.6 L817.8 1370.1 L818.6 1365.2 L819.4 1365.1 L820.1 1362.7 L820.9 1361.3 L821.6 1360.5 L822.8 1355.9 L823.6 1354.5 L824.3 1357.0 L825.1 1357.2 L825.8 1358.0 L826.6 1358.6 L827.6 1358.1 L828.6 1359.2 L829.6 1357.5 L830.6 1357.1 L831.3 1357.5 L832.0 1357.1 L832.8 1356.3 L833.5 1354.8 L834.5 1354.5 L835.5 1356.0 L836.5 1355.9 L837.5 1355.6 L838.5 1356.3 L839.5 1357.6 L840.5 1359.0 L841.5 1360.1 L842.5 1358.5 L843.5 1359.2 L844.2 1360.1 L845.0 1360.3 L846.0 1363.7 L846.7 1360.4 L847.5 1360.5 L848.2 1359.0 L849.0 1358.4 L849.7 1357.7 L850.5 1358.6 L851.4 1358.5 L852.4 1360.0 L853.4 1359.8 L854.4 1359.0 L855.4 1359.2 L856.4 1357.6 L857.4 1356.3 L858.4 1356.4 L859.4 1355.2 L860.4 1359.7 L861.4 1361.2 L862.4 1361.5 L863.4 1361.5 L864.4 1363.8 L865.1 1364.1 L865.9 1366.1 L866.6 1365.6 L867.4 1367.0 L868.1 1364.6 L868.9 1363.4 L869.6 1363.1 L870.4 1362.7 L871.3 1361.8 L872.3 1360.4 L873.3 1359.0 L874.3 1359.4 L875.1 1357.1 L875.8 1356.3 L876.8 1357.6 L877.8 1356.3 L878.6 1357.1 L879.3 1356.1 L879.3 1410.3 Z" fill="#b3a2c7" />
<polyline points="602.5,1362.1 604.5,1362.6 606.4,1363.1 608.9,1363.6 611.9,1363.6 614.4,1364.6 616.9,1366.1 619.9,1366.6 622.9,1368.1 625.9,1369.6 628.8,1370.6 631.8,1371.6 635.3,1371.6 638.8,1371.6 642.3,1372.5 644.8,1374.5 648.7,1374.5 655.7,1374.5 665.7,1374.5 677.6,1374.5 679.6,1375.3 690.5,1375.3 693.0,1372.5 698.5,1372.5 701.5,1372.0 705.0,1371.6 706.0,1368.6 707.9,1366.6 708.9,1363.6 710.4,1363.1 711.9,1360.6 715.4,1360.4 716.4,1352.1 719.4,1351.7 725.4,1351.7 726.3,1352.6 730.3,1352.8 731.5,1355.6 733.1,1358.6 735.3,1358.8 737.3,1358.1 739.3,1359.6 741.0,1360.8 745.0,1361.1 746.5,1363.1 748.5,1364.8 752.9,1365.1 758.9,1365.1 764.9,1364.6 767.1,1361.6 767.7,1357.8 770.9,1357.6 771.6,1355.6 776.8,1355.4 777.6,1351.7 781.3,1351.5 782.0,1348.5 782.8,1347.7 786.3,1347.5 787.3,1346.5 795.2,1346.5 795.7,1350.2 798.2,1351.5 801.7,1352.1 804.2,1352.8 806.2,1353.6 807.2,1356.6 809.7,1357.6 811.1,1359.1 813.6,1360.6 816.6,1361.6 818.6,1362.4 821.6,1361.6 826.6,1361.4 832.5,1361.6 836.5,1362.1 841.5,1362.4 846.5,1362.4 850.5,1362.1 852.4,1361.1 856.4,1360.6 860.4,1359.4 864.4,1359.4 867.4,1360.1 870.4,1360.6 874.3,1360.4 879.3,1360.1" fill="none" stroke="#1474c4" stroke-width="1.15" stroke-linejoin="round" />
<polyline points="602.5,1385.5 604.5,1387.0 606.0,1389.0 607.4,1389.5 608.9,1392.4 610.9,1389.0 612.9,1388.5 614.4,1390.0 615.9,1392.4 618.4,1391.5 620.9,1391.0 624.9,1391.0 627.8,1392.0 630.8,1391.5 633.3,1390.0 635.8,1389.8 638.3,1390.3 640.8,1391.5 643.8,1392.0 647.7,1392.0 650.7,1393.2 653.7,1393.9 656.7,1394.4 660.7,1394.4 663.7,1396.4 666.1,1397.4 668.6,1396.4 671.6,1395.6 674.6,1396.2 678.6,1396.4 681.6,1397.4 685.6,1397.4 688.5,1396.9 693.5,1396.9 696.5,1397.4 700.5,1397.4 705.5,1397.4 711.4,1397.2 713.4,1395.9 716.4,1395.6 719.4,1396.4 722.4,1397.4 727.3,1397.6 732.3,1397.4 734.3,1395.9 735.3,1394.4 738.3,1393.9 740.3,1393.2 741.0,1391.0 742.0,1385.5 743.0,1377.5 744.5,1371.6 746.5,1370.1 748.5,1371.1 749.8,1373.5 750.5,1382.5 751.4,1389.5 752.9,1389.0 754.9,1388.5 757.4,1388.0 759.4,1386.5 761.9,1385.0 764.4,1384.0 765.4,1380.0 766.4,1378.5 767.7,1380.5 768.7,1383.0 770.9,1384.0 772.8,1383.0 775.3,1382.0 778.3,1382.0 780.3,1380.0 782.3,1378.0 784.3,1377.5 786.3,1378.5 788.3,1380.5 789.8,1380.0 791.7,1378.5 793.2,1377.7 795.7,1378.3 798.7,1378.7 800.7,1378.0 802.7,1376.5 804.7,1377.0 807.7,1377.7 810.7,1378.0 813.6,1378.0 816.6,1378.0 818.6,1379.5 820.1,1382.5 821.6,1385.5 823.1,1389.0 824.6,1387.5 827.6,1387.5 830.1,1388.5 832.0,1389.0 833.0,1390.0 834.5,1388.0 837.0,1387.5 839.5,1387.7 841.5,1388.3 844.5,1388.3 847.0,1387.0 849.5,1386.3 851.4,1384.7 854.4,1384.5 856.9,1385.0 858.4,1388.0 860.4,1387.5 862.9,1387.7 865.4,1388.0 867.9,1388.3 870.4,1388.3 873.3,1387.7 876.3,1387.5 879.3,1387.3" fill="none" stroke="#ffb81c" stroke-width="1.15" stroke-linejoin="round" />
<polyline points="602.5,1320.3 604.0,1323.8 605.5,1328.3 607.4,1327.8 609.4,1327.3 611.9,1327.8 613.9,1330.8 615.9,1334.2 618.4,1336.2 619.9,1335.2 621.4,1331.3 623.4,1331.8 625.4,1332.7 627.8,1333.7 630.3,1337.2 632.3,1339.2 634.3,1338.7 636.3,1338.2 638.3,1336.7 640.3,1339.2 642.8,1342.2 645.3,1344.2 647.7,1346.2 650.2,1346.2 653.2,1346.2 655.7,1346.2 658.2,1346.2 660.7,1347.7 662.2,1350.2 664.2,1352.6 666.1,1353.1 668.1,1353.1 669.1,1351.2 671.6,1351.2 674.1,1351.7 676.1,1353.1 678.1,1353.6 680.1,1356.1 681.6,1356.1 683.1,1353.6 685.6,1353.1 688.0,1353.1 690.5,1352.6 691.7,1343.7 693.5,1341.2 696.0,1340.7 698.5,1340.9 701.0,1341.2 703.0,1338.7 705.0,1331.8 706.0,1325.3 707.9,1318.8 709.4,1317.3 710.9,1310.9 712.4,1305.9 714.4,1305.4 715.9,1307.4 717.4,1308.4 718.9,1311.4 720.4,1315.3 721.9,1315.8 724.4,1317.3 725.9,1325.8 727.8,1327.8 730.3,1327.8 731.5,1324.8 733.8,1324.3 736.3,1323.8 738.8,1324.8 741.0,1325.3 742.0,1325.8 742.8,1331.8 743.8,1332.2 745.0,1329.8 746.0,1321.8 746.5,1315.8 747.5,1314.3 749.0,1314.3 750.0,1316.3 751.0,1319.8 752.9,1319.8 753.9,1325.8 755.4,1327.3 756.9,1328.8 757.9,1329.8 759.1,1324.3 760.9,1323.8 762.9,1323.3 764.9,1321.8 766.4,1320.8 767.1,1322.8 768.4,1321.3 770.4,1320.3 772.3,1316.8 774.8,1315.8 777.3,1311.9 779.8,1309.9 781.8,1307.4 783.3,1305.9 785.3,1305.9 787.3,1307.4 788.8,1308.4 790.3,1312.8 792.2,1314.8 794.7,1315.3 796.7,1317.3 799.2,1319.3 801.7,1319.3 803.2,1319.8 803.9,1322.8 806.7,1323.3 809.2,1324.8 811.1,1325.3 813.6,1324.3 816.6,1323.6 819.1,1322.6 821.6,1322.5 824.6,1322.6 827.6,1322.8 830.6,1323.6 833.5,1322.6 836.0,1322.5 838.0,1323.3 840.0,1323.8 842.0,1325.3 844.0,1325.8 845.5,1327.3 847.0,1324.8 849.0,1323.3 851.0,1321.3 852.9,1320.3 855.4,1320.3 858.4,1320.3 860.4,1321.8 862.9,1322.8 864.9,1323.8 866.9,1325.3 868.9,1325.6 870.9,1324.3 872.8,1322.8 874.8,1322.3 875.8,1320.6 877.8,1320.3 879.3,1320.3" fill="none" stroke="#ff1a1a" stroke-width="1.15" stroke-linejoin="round" />
<path d="M602.5 1289.8 L602.5 1410.3" stroke="#333" stroke-width="0.9" fill="none"/>
<path d="M879.6 1289.8 L879.6 1410.3" stroke="#bbb" stroke-width="0.8" fill="none"/>
<path d="M602.5 1410.3 L879.6 1410.3" stroke="#888" stroke-width="0.8" fill="none"/>
<path d="M602.5 1289.8 L604.5 1289.8" stroke="#888" stroke-width="0.6" fill="none"/>
<text x="595.8" y="1291.9" font-size="6.2" text-anchor="end" fill="#1a1a1a" >18,000</text>
<path d="M602.5 1303.2 L604.5 1303.2" stroke="#888" stroke-width="0.6" fill="none"/>
<text x="595.8" y="1305.3" font-size="6.2" text-anchor="end" fill="#1a1a1a" >16,000</text>
<path d="M602.5 1316.6 L604.5 1316.6" stroke="#888" stroke-width="0.6" fill="none"/>
<text x="595.8" y="1318.7" font-size="6.2" text-anchor="end" fill="#1a1a1a" >14,000</text>
<path d="M602.5 1330.0 L604.5 1330.0" stroke="#888" stroke-width="0.6" fill="none"/>
<text x="595.8" y="1332.1" font-size="6.2" text-anchor="end" fill="#1a1a1a" >12,000</text>
<path d="M602.5 1343.4 L604.5 1343.4" stroke="#888" stroke-width="0.6" fill="none"/>
<text x="595.8" y="1345.5" font-size="6.2" text-anchor="end" fill="#1a1a1a" >10,000</text>
<path d="M602.5 1356.7 L604.5 1356.7" stroke="#888" stroke-width="0.6" fill="none"/>
<text x="595.8" y="1358.8" font-size="6.2" text-anchor="end" fill="#1a1a1a" >8,000</text>
<path d="M602.5 1370.1 L604.5 1370.1" stroke="#888" stroke-width="0.6" fill="none"/>
<text x="595.8" y="1372.2" font-size="6.2" text-anchor="end" fill="#1a1a1a" >6,000</text>
<path d="M602.5 1383.5 L604.5 1383.5" stroke="#888" stroke-width="0.6" fill="none"/>
<text x="595.8" y="1385.6" font-size="6.2" text-anchor="end" fill="#1a1a1a" >4,000</text>
<path d="M602.5 1396.9 L604.5 1396.9" stroke="#888" stroke-width="0.6" fill="none"/>
<text x="595.8" y="1399.0" font-size="6.2" text-anchor="end" fill="#1a1a1a" >2,000</text>
<path d="M602.5 1410.3 L604.5 1410.3" stroke="#888" stroke-width="0.6" fill="none"/>
<text x="595.8" y="1412.4" font-size="6.2" text-anchor="end" fill="#1a1a1a" >0</text>
<path d="M879.6 1289.8 L877.6 1289.8" stroke="#bbb" stroke-width="0.6" fill="none"/>
<text x="884.5" y="1291.9" font-size="6.2" text-anchor="start" fill="#1a1a1a" >8,000</text>
<path d="M879.6 1304.9 L877.6 1304.9" stroke="#bbb" stroke-width="0.6" fill="none"/>
<text x="884.5" y="1307.0" font-size="6.2" text-anchor="start" fill="#1a1a1a" >7,000</text>
<path d="M879.6 1319.9 L877.6 1319.9" stroke="#bbb" stroke-width="0.6" fill="none"/>
<text x="884.5" y="1322.0" font-size="6.2" text-anchor="start" fill="#1a1a1a" >6,000</text>
<path d="M879.6 1335.0 L877.6 1335.0" stroke="#bbb" stroke-width="0.6" fill="none"/>
<text x="884.5" y="1337.1" font-size="6.2" text-anchor="start" fill="#1a1a1a" >5,000</text>
<path d="M879.6 1350.0 L877.6 1350.0" stroke="#bbb" stroke-width="0.6" fill="none"/>
<text x="884.5" y="1352.1" font-size="6.2" text-anchor="start" fill="#1a1a1a" >4,000</text>
<path d="M879.6 1365.1 L877.6 1365.1" stroke="#bbb" stroke-width="0.6" fill="none"/>
<text x="884.5" y="1367.2" font-size="6.2" text-anchor="start" fill="#1a1a1a" >3,000</text>
<path d="M879.6 1380.2 L877.6 1380.2" stroke="#bbb" stroke-width="0.6" fill="none"/>
<text x="884.5" y="1382.3" font-size="6.2" text-anchor="start" fill="#1a1a1a" >2,000</text>
<path d="M879.6 1395.2 L877.6 1395.2" stroke="#bbb" stroke-width="0.6" fill="none"/>
<text x="884.5" y="1397.3" font-size="6.2" text-anchor="start" fill="#1a1a1a" >1,000</text>
<path d="M879.6 1410.3 L877.6 1410.3" stroke="#bbb" stroke-width="0.6" fill="none"/>
<text x="884.5" y="1412.4" font-size="6.2" text-anchor="start" fill="#1a1a1a" >0</text>
<path d="M602.5 1410.3 L602.5 1408.3" stroke="#555" stroke-width="0.7" fill="none"/>
<text transform="translate(604.5 1416.2) scale(1 0.93) rotate(-45)" font-size="6.3" text-anchor="end" fill="#1a1a1a" >2019-03</text>
<path d="M616.2 1410.3 L616.2 1408.3" stroke="#555" stroke-width="0.7" fill="none"/>
<text transform="translate(618.2 1416.2) scale(1 0.93) rotate(-45)" font-size="6.3" text-anchor="end" fill="#1a1a1a" >2019-06</text>
<path d="M629.9 1410.3 L629.9 1408.3" stroke="#555" stroke-width="0.7" fill="none"/>
<text transform="translate(631.9 1416.2) scale(1 0.93) rotate(-45)" font-size="6.3" text-anchor="end" fill="#1a1a1a" >2019-09</text>
<path d="M643.6 1410.3 L643.6 1408.3" stroke="#555" stroke-width="0.7" fill="none"/>
<text transform="translate(645.6 1416.2) scale(1 0.93) rotate(-45)" font-size="6.3" text-anchor="end" fill="#1a1a1a" >2019-12</text>
<path d="M657.4 1410.3 L657.4 1408.3" stroke="#555" stroke-width="0.7" fill="none"/>
<text transform="translate(659.4 1416.2) scale(1 0.93) rotate(-45)" font-size="6.3" text-anchor="end" fill="#1a1a1a" >2020-03</text>
<path d="M671.1 1410.3 L671.1 1408.3" stroke="#555" stroke-width="0.7" fill="none"/>
<text transform="translate(673.1 1416.2) scale(1 0.93) rotate(-45)" font-size="6.3" text-anchor="end" fill="#1a1a1a" >2020-06</text>
<path d="M684.8 1410.3 L684.8 1408.3" stroke="#555" stroke-width="0.7" fill="none"/>
<text transform="translate(686.8 1416.2) scale(1 0.93) rotate(-45)" font-size="6.3" text-anchor="end" fill="#1a1a1a" >2020-09</text>
<path d="M698.5 1410.3 L698.5 1408.3" stroke="#555" stroke-width="0.7" fill="none"/>
<text transform="translate(700.5 1416.2) scale(1 0.93) rotate(-45)" font-size="6.3" text-anchor="end" fill="#1a1a1a" >2020-12</text>
<path d="M712.2 1410.3 L712.2 1408.3" stroke="#555" stroke-width="0.7" fill="none"/>
<text transform="translate(714.2 1416.2) scale(1 0.93) rotate(-45)" font-size="6.3" text-anchor="end" fill="#1a1a1a" >2021-03</text>
<path d="M725.9 1410.3 L725.9 1408.3" stroke="#555" stroke-width="0.7" fill="none"/>
<text transform="translate(727.9 1416.2) scale(1 0.93) rotate(-45)" font-size="6.3" text-anchor="end" fill="#1a1a1a" >2021-06</text>
<path d="M739.6 1410.3 L739.6 1408.3" stroke="#555" stroke-width="0.7" fill="none"/>
<text transform="translate(741.6 1416.2) scale(1 0.93) rotate(-45)" font-size="6.3" text-anchor="end" fill="#1a1a1a" >2021-09</text>
<path d="M753.4 1410.3 L753.4 1408.3" stroke="#555" stroke-width="0.7" fill="none"/>
<text transform="translate(755.4 1416.2) scale(1 0.93) rotate(-45)" font-size="6.3" text-anchor="end" fill="#1a1a1a" >2021-12</text>
<path d="M767.1 1410.3 L767.1 1408.3" stroke="#555" stroke-width="0.7" fill="none"/>
<text transform="translate(769.1 1416.2) scale(1 0.93) rotate(-45)" font-size="6.3" text-anchor="end" fill="#1a1a1a" >2022-03</text>
<path d="M780.8 1410.3 L780.8 1408.3" stroke="#555" stroke-width="0.7" fill="none"/>
<text transform="translate(782.8 1416.2) scale(1 0.93) rotate(-45)" font-size="6.3" text-anchor="end" fill="#1a1a1a" >2022-06</text>
<path d="M794.5 1410.3 L794.5 1408.3" stroke="#555" stroke-width="0.7" fill="none"/>
<text transform="translate(796.5 1416.2) scale(1 0.93) rotate(-45)" font-size="6.3" text-anchor="end" fill="#1a1a1a" >2022-09</text>
<path d="M808.2 1410.3 L808.2 1408.3" stroke="#555" stroke-width="0.7" fill="none"/>
<text transform="translate(810.2 1416.2) scale(1 0.93) rotate(-45)" font-size="6.3" text-anchor="end" fill="#1a1a1a" >2022-12</text>
<path d="M821.9 1410.3 L821.9 1408.3" stroke="#555" stroke-width="0.7" fill="none"/>
<text transform="translate(823.9 1416.2) scale(1 0.93) rotate(-45)" font-size="6.3" text-anchor="end" fill="#1a1a1a" >2023-03</text>
<path d="M835.7 1410.3 L835.7 1408.3" stroke="#555" stroke-width="0.7" fill="none"/>
<text transform="translate(837.7 1416.2) scale(1 0.93) rotate(-45)" font-size="6.3" text-anchor="end" fill="#1a1a1a" >2023-06</text>
<path d="M849.4 1410.3 L849.4 1408.3" stroke="#555" stroke-width="0.7" fill="none"/>
<text transform="translate(851.4 1416.2) scale(1 0.93) rotate(-45)" font-size="6.3" text-anchor="end" fill="#1a1a1a" >2023-09</text>
<path d="M863.1 1410.3 L863.1 1408.3" stroke="#555" stroke-width="0.7" fill="none"/>
<text transform="translate(865.1 1416.2) scale(1 0.93) rotate(-45)" font-size="6.3" text-anchor="end" fill="#1a1a1a" >2023-12</text>
<path d="M876.8 1410.3 L876.8 1408.3" stroke="#555" stroke-width="0.7" fill="none"/>
<text transform="translate(878.8 1416.2) scale(1 0.93) rotate(-45)" font-size="6.3" text-anchor="end" fill="#1a1a1a" >2024-03</text>
<text x="608.5" y="1295.8" font-size="5.2" fill="#444" text-anchor="start" style="font-family:'Liberation Sans',sans-serif">元/吨</text>
<text x="852.5" y="1297.6" font-size="5.2" fill="#444" text-anchor="start" style="font-family:'Liberation Sans',sans-serif">元/吨</text>
<rect x="597.5" y="1439.6" width="10.4" height="3.8" fill="#b3a2c7"/>
<text x="610.0" y="1443.4" font-size="5.6" fill="#222" text-anchor="start" style="font-family:'Liberation Sans',sans-serif" textLength="113">粘胶短纤-1.03×溶解浆-0.6×烧碱（右轴）</text>
<path d="M734.2 1441.5 L745.7 1441.5" stroke="#1474c4" stroke-width="1" fill="none"/>
<text x="748.0" y="1443.4" font-size="5.6" fill="#222" text-anchor="start" style="font-family:'Liberation Sans',sans-serif" textLength="30">溶解浆价格</text>
<path d="M787.0 1441.5 L798.5 1441.5" stroke="#ff1a1a" stroke-width="1" fill="none"/>
<text x="801.0" y="1443.4" font-size="5.6" fill="#222" text-anchor="start" style="font-family:'Liberation Sans',sans-serif" textLength="36">粘胶短纤价格</text>
<path d="M845.8 1441.5 L857.5 1441.5" stroke="#ffb81c" stroke-width="1" fill="none"/>
<text x="860.0" y="1443.4" font-size="5.6" fill="#222" text-anchor="start" style="font-family:'Liberation Sans',sans-serif" textLength="24">烧碱价格</text>
<path d="M571.0 1470.5 L913.5 1470.5" stroke="#555" stroke-width="1" fill="none"/></svg><div class="csrc">数据来源：<span class="w">Wind</span>、百川盈孚、开源证券研究所</div><div class="cdate">2024-03-17</div><div class="cline"></div><div class="ctag">其他 | 能源矿产</div><div class="clink">查看原文</div></div>
<div class="card" style="left:983.33px;top:1176px"><div class="ctitle">本周氨纶价差基本稳定</div><svg class="chart" width="438.67" height="411.67" viewBox="983.33 1176 438.67 411.67"><path d="M1095.6 1402.4 L1095.6 1381.5 L1099.2 1381.9 L1103.5 1382.8 L1108.7 1382.3 L1113.9 1382.8 L1119.0 1383.4 L1124.2 1383.2 L1129.4 1382.8 L1134.6 1382.3 L1139.7 1381.9 L1144.9 1382.3 L1150.1 1381.5 L1155.2 1381.9 L1160.4 1382.3 L1165.6 1382.8 L1169.0 1383.2 L1172.9 1382.8 L1174.2 1377.2 L1176.8 1375.0 L1179.4 1375.4 L1182.0 1375.4 L1184.6 1375.0 L1187.1 1371.6 L1189.7 1368.5 L1192.3 1367.2 L1194.9 1367.7 L1197.5 1367.7 L1199.6 1364.7 L1200.9 1361.2 L1202.7 1356.0 L1204.8 1353.0 L1207.0 1347.4 L1208.7 1344.8 L1210.4 1350.0 L1212.1 1347.4 L1213.0 1351.3 L1215.6 1353.0 L1219.0 1353.9 L1222.5 1355.2 L1224.2 1357.8 L1225.9 1363.8 L1226.8 1372.4 L1228.1 1378.0 L1230.2 1378.9 L1234.6 1378.9 L1238.9 1379.1 L1241.4 1381.5 L1244.9 1383.6 L1247.5 1386.2 L1249.6 1388.8 L1251.4 1390.5 L1253.1 1388.8 L1255.2 1387.9 L1257.8 1385.8 L1260.0 1384.5 L1262.6 1384.5 L1264.7 1384.1 L1267.3 1382.8 L1269.9 1381.9 L1273.3 1381.5 L1275.9 1382.3 L1279.4 1381.9 L1282.0 1380.6 L1283.7 1380.2 L1286.3 1381.5 L1288.9 1382.3 L1291.4 1383.6 L1294.0 1385.8 L1297.5 1386.0 L1300.9 1385.8 L1304.4 1386.6 L1307.8 1386.2 L1312.1 1385.8 L1316.4 1385.8 L1320.8 1385.3 L1325.1 1384.5 L1328.5 1384.3 L1333.0 1384.1 L1333.0 1402.4 Z" fill="#b3a2c7" />
<polyline points="1095.6,1373.3 1097.5,1371.1 1099.6,1369.8 1101.8,1369.8 1104.4,1370.7 1106.1,1374.1 1108.3,1378.4 1110.0,1379.7 1112.6,1380.0 1113.9,1377.2 1115.4,1375.9 1117.7,1377.2 1120.3,1378.4 1122.5,1379.7 1125.1,1379.5 1127.7,1379.3 1130.2,1379.7 1132.8,1380.6 1135.4,1381.5 1138.9,1381.9 1142.3,1381.9 1145.3,1383.2 1148.3,1384.5 1151.4,1385.8 1153.5,1384.1 1156.1,1383.8 1158.7,1384.9 1161.3,1385.5 1163.9,1383.6 1165.6,1381.5 1167.3,1379.3 1169.5,1375.0 1171.2,1369.0 1172.1,1361.2 1172.9,1355.6 1173.8,1356.5 1175.1,1361.2 1176.8,1366.8 1178.5,1369.8 1181.1,1372.4 1183.7,1374.1 1186.3,1372.8 1188.4,1369.8 1189.9,1365.1 1191.4,1367.2 1193.2,1371.6 1194.5,1373.7 1196.6,1373.3 1198.8,1375.0 1200.9,1376.7 1203.1,1378.0 1204.8,1375.0 1206.5,1370.7 1208.3,1369.8 1210.0,1371.6 1211.7,1373.3 1212.8,1374.8 1213.0,1375.0 1215.6,1374.1 1217.7,1372.8 1219.9,1371.1 1221.6,1370.7 1223.8,1372.4 1225.5,1375.0 1227.2,1375.9 1229.4,1374.1 1231.5,1373.7 1233.7,1372.8 1235.8,1370.7 1237.1,1369.7 1238.9,1371.6 1240.6,1372.8 1243.2,1373.4 1245.8,1374.1 1248.3,1375.2 1250.1,1374.1 1251.8,1372.8 1253.9,1372.6 1255.7,1373.7 1257.8,1376.7 1260.0,1378.0 1262.1,1377.2 1263.9,1375.4 1266.0,1374.3 1268.2,1375.0 1269.9,1377.6 1272.1,1379.7 1274.2,1381.0 1275.9,1379.7 1278.1,1378.4 1280.2,1377.6 1282.4,1376.3 1284.1,1375.4 1285.8,1376.7 1288.0,1378.9 1290.2,1378.0 1292.3,1377.2 1295.8,1376.7 1298.3,1377.2 1300.9,1377.2 1303.1,1375.9 1304.4,1373.3 1305.7,1372.4 1307.4,1373.7 1308.7,1372.8 1310.8,1373.7 1313.0,1375.0 1315.2,1373.3 1316.4,1373.1 1318.6,1374.6 1321.2,1375.4 1323.8,1375.9 1325.9,1375.4 1328.5,1375.2 1330.2,1374.1 1332.0,1374.8 1333.0,1375.2" fill="none" stroke="#0b72c2" stroke-width="1.3" stroke-linejoin="round" />
<polyline points="1095.6,1359.5 1097.5,1358.4 1100.9,1358.2 1103.5,1359.1 1106.1,1359.9 1109.1,1360.5 1111.3,1362.1 1113.9,1362.5 1126.8,1362.5 1128.1,1363.4 1144.9,1363.4 1145.8,1364.7 1148.3,1364.5 1149.4,1362.9 1150.9,1363.8 1153.5,1364.5 1161.3,1364.7 1163.0,1365.3 1165.6,1364.7 1168.2,1363.4 1170.8,1362.9 1172.5,1359.5 1173.8,1356.0 1175.1,1351.7 1176.8,1350.4 1179.4,1350.0 1181.1,1350.7 1183.3,1350.4 1184.6,1346.6 1185.8,1342.2 1187.6,1340.5 1188.4,1335.3 1189.0,1326.7 1189.7,1316.4 1191.0,1316.6 1192.7,1317.1 1194.9,1317.7 1197.1,1318.5 1199.2,1317.7 1200.9,1315.5 1201.8,1312.1 1203.5,1309.5 1205.2,1305.2 1207.4,1300.9 1209.6,1296.1 1211.3,1295.3 1212.6,1296.4 1213.0,1296.6 1215.6,1298.3 1219.0,1298.4 1221.6,1299.1 1223.8,1300.9 1225.1,1305.2 1226.4,1309.5 1227.2,1315.5 1228.5,1320.7 1230.2,1325.9 1231.5,1327.2 1233.7,1327.6 1235.4,1329.7 1236.7,1331.5 1238.0,1330.6 1240.2,1330.6 1241.9,1333.2 1244.0,1335.3 1245.8,1336.6 1247.5,1338.8 1248.3,1342.2 1250.1,1345.7 1251.8,1348.3 1253.5,1350.9 1255.2,1354.3 1257.0,1357.8 1258.7,1359.9 1260.8,1360.8 1263.0,1360.5 1264.7,1359.9 1265.6,1356.0 1266.9,1354.7 1269.0,1354.7 1270.8,1356.5 1272.9,1357.8 1275.1,1358.4 1277.2,1358.4 1279.2,1358.2 1279.8,1355.6 1281.1,1354.7 1282.4,1353.0 1284.1,1352.8 1285.8,1354.3 1288.0,1356.5 1290.2,1357.8 1292.3,1359.1 1294.5,1360.3 1297.1,1361.0 1300.1,1360.8 1302.7,1360.5 1305.2,1360.3 1307.8,1359.7 1310.4,1359.5 1313.4,1359.5 1316.4,1360.2 1319.0,1361.0 1321.6,1362.2 1324.2,1362.5 1326.8,1363.1 1329.8,1362.9 1333.0,1362.8" fill="none" stroke="#ffc000" stroke-width="1.3" stroke-linejoin="round" />
<polyline points="1095.6,1380.6 1099.2,1380.3 1101.8,1380.0 1105.2,1380.3 1108.7,1380.6 1111.3,1381.5 1114.7,1381.9 1119.0,1382.9 1124.2,1382.9 1131.1,1382.9 1139.7,1382.9 1148.3,1382.9 1153.5,1383.4 1157.0,1383.6 1159.6,1384.3 1163.9,1384.3 1167.3,1383.6 1169.9,1383.2 1173.3,1383.2 1175.1,1381.0 1177.2,1379.3 1179.4,1377.6 1182.0,1376.3 1184.6,1375.0 1186.3,1372.0 1188.0,1370.7 1189.0,1357.8 1189.7,1347.4 1191.4,1347.0 1192.7,1345.3 1194.5,1345.0 1196.6,1345.5 1198.8,1346.1 1200.5,1348.7 1202.2,1351.3 1203.9,1352.6 1207.0,1352.6 1209.6,1352.6 1209.7,1343.1 1212.8,1342.9 1213.0,1343.1 1213.2,1339.2 1217.3,1339.0 1220.8,1339.2 1221.6,1338.6 1225.9,1338.6 1226.8,1339.0 1230.2,1339.0 1230.7,1343.1 1232.0,1344.0 1234.1,1344.0 1234.6,1347.4 1236.3,1348.3 1238.0,1347.2 1240.6,1347.2 1243.2,1347.8 1244.9,1349.0 1246.6,1350.0 1248.3,1352.2 1251.4,1354.3 1252.2,1356.9 1253.1,1360.8 1255.2,1364.7 1256.5,1369.8 1257.8,1374.1 1259.1,1377.6 1260.0,1378.4 1264.7,1378.4 1265.0,1372.8 1269.0,1373.1 1269.9,1375.0 1272.5,1377.6 1275.1,1379.3 1276.8,1378.9 1279.4,1377.2 1281.1,1374.6 1283.3,1373.7 1286.3,1374.6 1288.9,1376.7 1292.3,1376.7 1295.8,1376.9 1299.2,1376.9 1302.7,1376.6 1305.2,1376.3 1307.8,1376.0 1310.4,1375.4 1313.4,1375.4 1316.4,1376.7 1319.0,1378.4 1321.6,1379.7 1324.2,1380.9 1326.8,1381.7 1329.8,1381.9 1333.0,1381.7" fill="none" stroke="#c4000c" stroke-width="1.35" stroke-linejoin="round" />
<path d="M1095.6 1282.3 L1095.6 1402.4" stroke="#333" stroke-width="0.9" fill="none"/>
<path d="M1095.6 1402.4 L1333.0 1402.4" stroke="#8a7aa0" stroke-width="0.8" fill="none"/>
<path d="M1095.6 1282.3 L1097.4 1282.3" stroke="#666" stroke-width="0.6" fill="none"/>
<text x="1089.3" y="1284.2" font-size="5.4" text-anchor="end" fill="#1a1a1a" >90,000</text>
<path d="M1095.6 1295.6 L1097.4 1295.6" stroke="#666" stroke-width="0.6" fill="none"/>
<text x="1089.3" y="1297.5" font-size="5.4" text-anchor="end" fill="#1a1a1a" >80,000</text>
<path d="M1095.6 1309.0 L1097.4 1309.0" stroke="#666" stroke-width="0.6" fill="none"/>
<text x="1089.3" y="1310.9" font-size="5.4" text-anchor="end" fill="#1a1a1a" >70,000</text>
<path d="M1095.6 1322.3 L1097.4 1322.3" stroke="#666" stroke-width="0.6" fill="none"/>
<text x="1089.3" y="1324.2" font-size="5.4" text-anchor="end" fill="#1a1a1a" >60,000</text>
<path d="M1095.6 1335.7 L1097.4 1335.7" stroke="#666" stroke-width="0.6" fill="none"/>
<text x="1089.3" y="1337.6" font-size="5.4" text-anchor="end" fill="#1a1a1a" >50,000</text>
<path d="M1095.6 1349.0 L1097.4 1349.0" stroke="#666" stroke-width="0.6" fill="none"/>
<text x="1089.3" y="1350.9" font-size="5.4" text-anchor="end" fill="#1a1a1a" >40,000</text>
<path d="M1095.6 1362.4 L1097.4 1362.4" stroke="#666" stroke-width="0.6" fill="none"/>
<text x="1089.3" y="1364.3" font-size="5.4" text-anchor="end" fill="#1a1a1a" >30,000</text>
<path d="M1095.6 1375.7 L1097.4 1375.7" stroke="#666" stroke-width="0.6" fill="none"/>
<text x="1089.3" y="1377.6" font-size="5.4" text-anchor="end" fill="#1a1a1a" >20,000</text>
<path d="M1095.6 1389.1 L1097.4 1389.1" stroke="#666" stroke-width="0.6" fill="none"/>
<text x="1089.3" y="1391.0" font-size="5.4" text-anchor="end" fill="#1a1a1a" >10,000</text>
<path d="M1095.6 1402.4 L1097.4 1402.4" stroke="#666" stroke-width="0.6" fill="none"/>
<text x="1089.3" y="1404.3" font-size="5.4" text-anchor="end" fill="#1a1a1a" >0</text>
<path d="M1095.6 1402.4 L1095.6 1400.6" stroke="#444" stroke-width="0.7" fill="none"/>
<text transform="translate(1097.4 1407.4) rotate(-45)" font-size="5.8" text-anchor="end" fill="#1a1a1a" >2019-03</text>
<path d="M1107.4 1402.4 L1107.4 1400.6" stroke="#444" stroke-width="0.7" fill="none"/>
<text transform="translate(1109.2 1407.4) rotate(-45)" font-size="5.8" text-anchor="end" fill="#1a1a1a" >2019-06</text>
<path d="M1119.3 1402.4 L1119.3 1400.6" stroke="#444" stroke-width="0.7" fill="none"/>
<text transform="translate(1121.1 1407.4) rotate(-45)" font-size="5.8" text-anchor="end" fill="#1a1a1a" >2019-09</text>
<path d="M1131.1 1402.4 L1131.1 1400.6" stroke="#444" stroke-width="0.7" fill="none"/>
<text transform="translate(1132.9 1407.4) rotate(-45)" font-size="5.8" text-anchor="end" fill="#1a1a1a" >2019-12</text>
<path d="M1143.0 1402.4 L1143.0 1400.6" stroke="#444" stroke-width="0.7" fill="none"/>
<text transform="translate(1144.8 1407.4) rotate(-45)" font-size="5.8" text-anchor="end" fill="#1a1a1a" >2020-03</text>
<path d="M1154.8 1402.4 L1154.8 1400.6" stroke="#444" stroke-width="0.7" fill="none"/>
<text transform="translate(1156.6 1407.4) rotate(-45)" font-size="5.8" text-anchor="end" fill="#1a1a1a" >2020-06</text>
<path d="M1166.7 1402.4 L1166.7 1400.6" stroke="#444" stroke-width="0.7" fill="none"/>
<text transform="translate(1168.5 1407.4) rotate(-45)" font-size="5.8" text-anchor="end" fill="#1a1a1a" >2020-09</text>
<path d="M1178.5 1402.4 L1178.5 1400.6" stroke="#444" stroke-width="0.7" fill="none"/>
<text transform="translate(1180.3 1407.4) rotate(-45)" font-size="5.8" text-anchor="end" fill="#1a1a1a" >2020-12</text>
<path d="M1190.4 1402.4 L1190.4 1400.6" stroke="#444" stroke-width="0.7" fill="none"/>
<text transform="translate(1192.2 1407.4) rotate(-45)" font-size="5.8" text-anchor="end" fill="#1a1a1a" >2021-03</text>
<path d="M1202.2 1402.4 L1202.2 1400.6" stroke="#444" stroke-width="0.7" fill="none"/>
<text transform="translate(1204.0 1407.4) rotate(-45)" font-size="5.8" text-anchor="end" fill="#1a1a1a" >2021-06</text>
<path d="M1214.1 1402.4 L1214.1 1400.6" stroke="#444" stroke-width="0.7" fill="none"/>
<text transform="translate(1215.9 1407.4) rotate(-45)" font-size="5.8" text-anchor="end" fill="#1a1a1a" >2021-09</text>
<path d="M1225.9 1402.4 L1225.9 1400.6" stroke="#444" stroke-width="0.7" fill="none"/>
<text transform="translate(1227.7 1407.4) rotate(-45)" font-size="5.8" text-anchor="end" fill="#1a1a1a" >2021-12</text>
<path d="M1237.8 1402.4 L1237.8 1400.6" stroke="#444" stroke-width="0.7" fill="none"/>
<text transform="translate(1239.6 1407.4) rotate(-45)" font-size="5.8" text-anchor="end" fill="#1a1a1a" >2022-03</text>
<path d="M1249.6 1402.4 L1249.6 1400.6" stroke="#444" stroke-width="0.7" fill="none"/>
<text transform="translate(1251.4 1407.4) rotate(-45)" font-size="5.8" text-anchor="end" fill="#1a1a1a" >2022-06</text>
<path d="M1261.5 1402.4 L1261.5 1400.6" stroke="#444" stroke-width="0.7" fill="none"/>
<text transform="translate(1263.3 1407.4) rotate(-45)" font-size="5.8" text-anchor="end" fill="#1a1a1a" >2022-09</text>
<path d="M1273.3 1402.4 L1273.3 1400.6" stroke="#444" stroke-width="0.7" fill="none"/>
<text transform="translate(1275.1 1407.4) rotate(-45)" font-size="5.8" text-anchor="end" fill="#1a1a1a" >2022-12</text>
<path d="M1285.2 1402.4 L1285.2 1400.6" stroke="#444" stroke-width="0.7" fill="none"/>
<text transform="translate(1287.0 1407.4) rotate(-45)" font-size="5.8" text-anchor="end" fill="#1a1a1a" >2023-03</text>
<path d="M1297.0 1402.4 L1297.0 1400.6" stroke="#444" stroke-width="0.7" fill="none"/>
<text transform="translate(1298.8 1407.4) rotate(-45)" font-size="5.8" text-anchor="end" fill="#1a1a1a" >2023-06</text>
<path d="M1308.9 1402.4 L1308.9 1400.6" stroke="#444" stroke-width="0.7" fill="none"/>
<text transform="translate(1310.7 1407.4) rotate(-45)" font-size="5.8" text-anchor="end" fill="#1a1a1a" >2023-09</text>
<path d="M1320.8 1402.4 L1320.8 1400.6" stroke="#444" stroke-width="0.7" fill="none"/>
<text transform="translate(1322.5 1407.4) rotate(-45)" font-size="5.8" text-anchor="end" fill="#1a1a1a" >2023-12</text>
<path d="M1332.6 1402.4 L1332.6 1400.6" stroke="#444" stroke-width="0.7" fill="none"/>
<text transform="translate(1334.4 1407.4) rotate(-45)" font-size="5.8" text-anchor="end" fill="#1a1a1a" >2024-03</text>
<text x="1208.3" y="1288.0" font-size="8.6" fill="#333" text-anchor="middle" style="font-family:'Liberation Sans',sans-serif" textLength="66">氨纶价格与价差</text>
<text x="1097.5" y="1288.0" font-size="4.4" fill="#444" text-anchor="start" style="font-family:'Liberation Sans',sans-serif">元/吨</text>
<rect x="1131.6" y="1428.0" width="9.2" height="3.2" fill="#b3a2c7"/>
<text x="1143.0" y="1431.3" font-size="5.0" fill="#222" text-anchor="start" style="font-family:'Liberation Sans',sans-serif" textLength="139">氨纶价差：氨纶40D-0.77*PTMEG-0.18*纯MDI（当期价差）</text>
<path d="M1131.6 1436.9 L1140.8 1436.9" stroke="#0b72c2" stroke-width="1.1" fill="none"/>
<text x="1142.3" y="1438.6" font-size="5.0" fill="#222" text-anchor="start" style="font-family:'Liberation Sans',sans-serif" textLength="31">纯MDI(桶装)</text>
<path d="M1131.6 1443.6 L1140.8 1443.6" stroke="#c4000c" stroke-width="1.1" fill="none"/>
<text x="1142.3" y="1445.3" font-size="5.0" fill="#222" text-anchor="start" style="font-family:'Liberation Sans',sans-serif" textLength="33">PTMEG(1000)</text>
<path d="M1131.6 1450.7 L1140.8 1450.7" stroke="#ffc000" stroke-width="1.1" fill="none"/>
<text x="1142.3" y="1452.4" font-size="5.0" fill="#222" text-anchor="start" style="font-family:'Liberation Sans',sans-serif" textLength="21">氨纶40D</text>
<path d="M1033.4 1461.3 L1375.0 1461.3" stroke="#888" stroke-width="1.2" fill="none"/></svg><div class="csrc">数据来源：<span class="w">Wind</span>、百川盈孚、开源证券研究所</div><div class="cdate">2024-03-17</div><div class="cline"></div><div class="ctag">其他 | 能源矿产</div><div class="clink">查看原文</div></div>
</body></html>
